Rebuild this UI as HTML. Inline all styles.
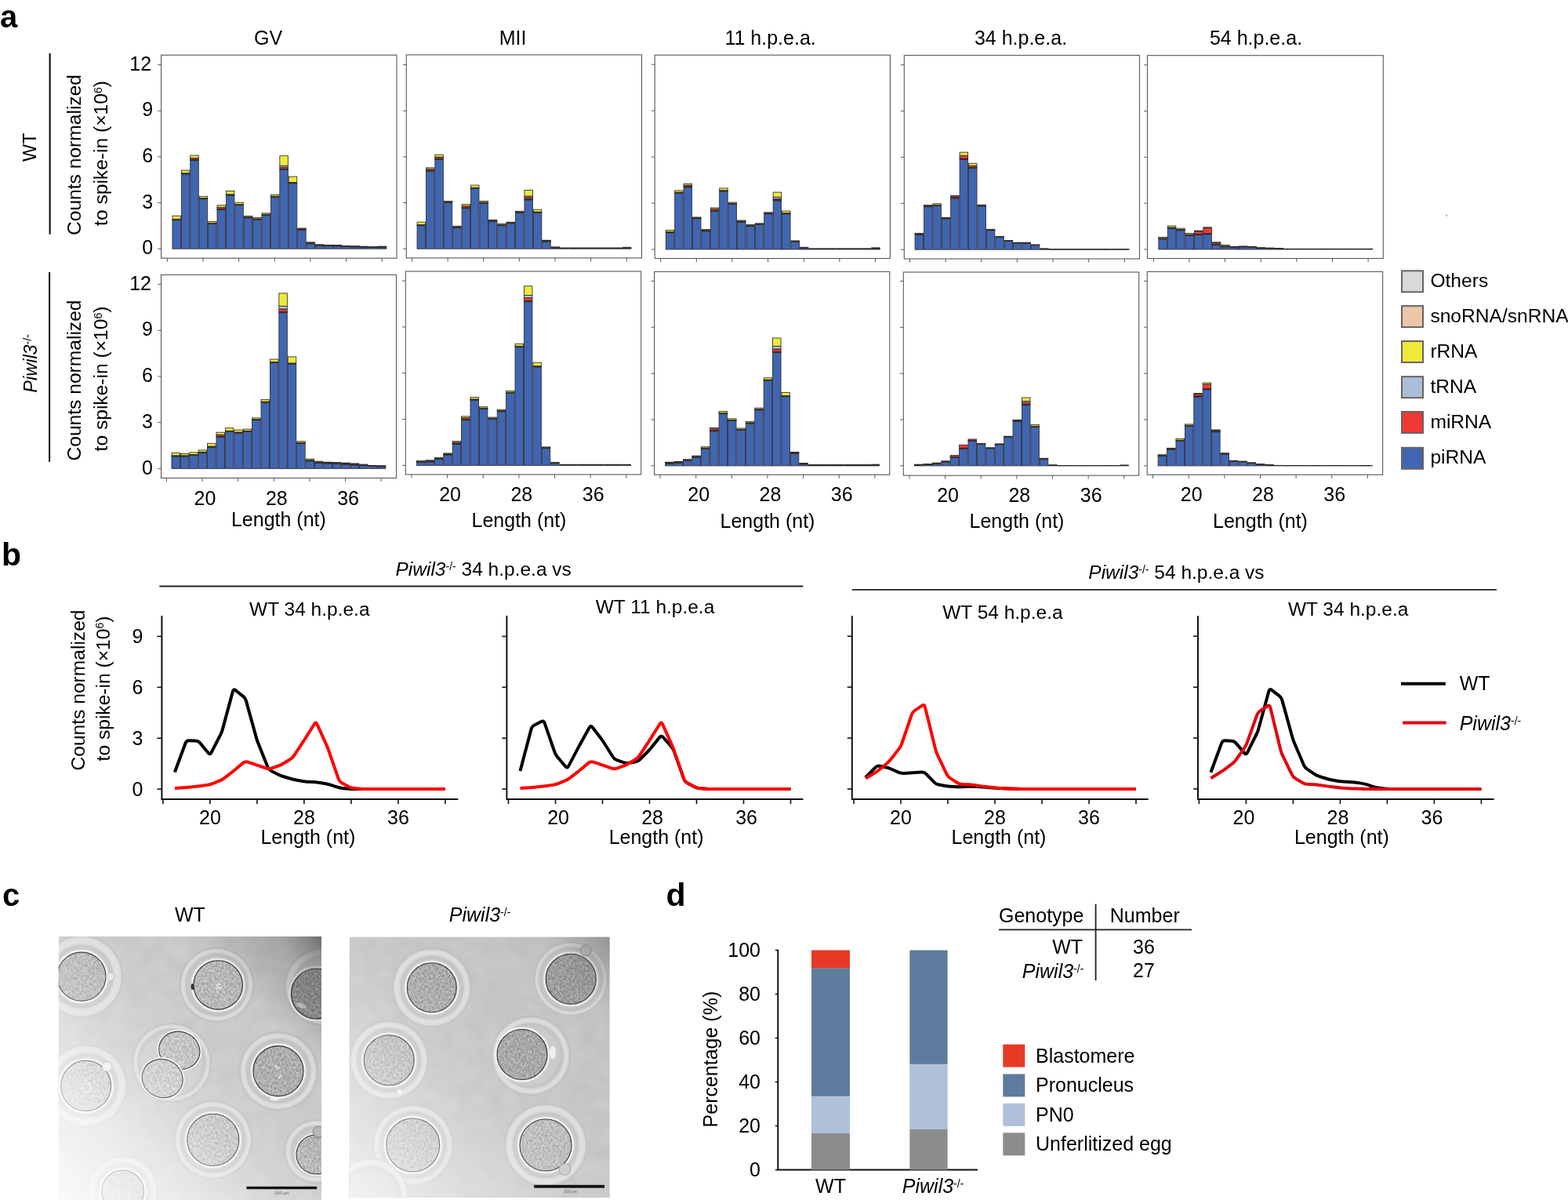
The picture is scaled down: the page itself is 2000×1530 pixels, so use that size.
<!DOCTYPE html>
<html><head><meta charset="utf-8"><title>Figure</title>
<style>html,body{margin:0;padding:0;background:#fff;} svg{display:block;}</style>
</head><body>
<svg width="2000" height="1530" viewBox="0 0 2000 1530" font-family="'Liberation Sans', Arial, Helvetica, sans-serif" fill="#000">

<text x="0" y="34.5" font-size="40" font-weight="bold">a</text>
<text x="2" y="720.5" font-size="41" font-weight="bold">b</text>
<text x="3" y="1155" font-size="40" font-weight="bold">c</text>
<text x="849.5" y="1155" font-size="41" font-weight="bold">d</text>
<text x="342" y="57" text-anchor="middle" font-size="25">GV</text>
<text x="654" y="57" text-anchor="middle" font-size="25">MII</text>
<text x="982.6" y="57" text-anchor="middle" font-size="25">11 h.p.e.a.</text>
<text x="1302" y="57" text-anchor="middle" font-size="25">34 h.p.e.a.</text>
<text x="1602" y="57" text-anchor="middle" font-size="25">54 h.p.e.a.</text>
<rect x="205.6" y="70.2" width="300.4" height="259" fill="#fff" stroke="#5e5654" stroke-width="1.1"/>
<line x1="201.3" y1="317.2" x2="205.6" y2="317.2" stroke="#5e5654" stroke-width="1"/>
<text x="195.1" y="324.4" text-anchor="end" font-size="25">0</text>
<line x1="201.3" y1="258.55" x2="205.6" y2="258.55" stroke="#5e5654" stroke-width="1"/>
<text x="195.1" y="265.75" text-anchor="end" font-size="25">3</text>
<line x1="201.3" y1="199.9" x2="205.6" y2="199.9" stroke="#5e5654" stroke-width="1"/>
<text x="195.1" y="207.1" text-anchor="end" font-size="25">6</text>
<line x1="201.3" y1="141.25" x2="205.6" y2="141.25" stroke="#5e5654" stroke-width="1"/>
<text x="195.1" y="148.45" text-anchor="end" font-size="25">9</text>
<line x1="201.3" y1="82.6" x2="205.6" y2="82.6" stroke="#5e5654" stroke-width="1"/>
<text x="193.1" y="89.8" text-anchor="end" font-size="25">12</text>
<line x1="213.4" y1="329.2" x2="213.4" y2="333.8" stroke="#5e5654" stroke-width="1"/>
<line x1="259.03" y1="329.2" x2="259.03" y2="333.8" stroke="#5e5654" stroke-width="1"/>
<line x1="304.66" y1="329.2" x2="304.66" y2="333.8" stroke="#5e5654" stroke-width="1"/>
<line x1="350.29" y1="329.2" x2="350.29" y2="333.8" stroke="#5e5654" stroke-width="1"/>
<line x1="395.92" y1="329.2" x2="395.92" y2="333.8" stroke="#5e5654" stroke-width="1"/>
<line x1="441.55" y1="329.2" x2="441.55" y2="333.8" stroke="#5e5654" stroke-width="1"/>
<line x1="487.18" y1="329.2" x2="487.18" y2="333.8" stroke="#5e5654" stroke-width="1"/>
<rect x="219.96" y="280.45" width="10.5" height="36.75" fill="#4066b1" stroke="#2e2a2c" stroke-width="0.85"/>
<rect x="219.96" y="279.27" width="10.5" height="1.17" fill="#3b2a26" stroke="#2e2a2c" stroke-width="0.85"/>
<rect x="219.96" y="275.17" width="10.5" height="4.11" fill="#efe93a" stroke="#2e2a2c" stroke-width="0.85"/>
<rect x="231.37" y="221.99" width="10.5" height="95.21" fill="#4066b1" stroke="#2e2a2c" stroke-width="0.85"/>
<rect x="231.37" y="220.82" width="10.5" height="1.17" fill="#3b2a26" stroke="#2e2a2c" stroke-width="0.85"/>
<rect x="231.37" y="217.1" width="10.5" height="3.71" fill="#efe93a" stroke="#2e2a2c" stroke-width="0.85"/>
<rect x="242.77" y="204.4" width="10.5" height="112.8" fill="#4066b1" stroke="#2e2a2c" stroke-width="0.85"/>
<rect x="242.77" y="203.22" width="10.5" height="1.17" fill="#3b2a26" stroke="#2e2a2c" stroke-width="0.85"/>
<rect x="242.77" y="201.66" width="10.5" height="1.56" fill="#ee3a33" stroke="#2e2a2c" stroke-width="0.85"/>
<rect x="242.77" y="198.14" width="10.5" height="3.52" fill="#efe93a" stroke="#2e2a2c" stroke-width="0.85"/>
<rect x="254.18" y="253.66" width="10.5" height="63.54" fill="#4066b1" stroke="#2e2a2c" stroke-width="0.85"/>
<rect x="254.18" y="252.49" width="10.5" height="1.17" fill="#3b2a26" stroke="#2e2a2c" stroke-width="0.85"/>
<rect x="254.18" y="250.34" width="10.5" height="2.15" fill="#efe93a" stroke="#2e2a2c" stroke-width="0.85"/>
<rect x="265.59" y="285.53" width="10.5" height="31.67" fill="#4066b1" stroke="#2e2a2c" stroke-width="0.85"/>
<rect x="265.59" y="284.36" width="10.5" height="1.17" fill="#3b2a26" stroke="#2e2a2c" stroke-width="0.85"/>
<rect x="265.59" y="282.4" width="10.5" height="1.95" fill="#efe93a" stroke="#2e2a2c" stroke-width="0.85"/>
<rect x="277" y="267.35" width="10.5" height="49.85" fill="#4066b1" stroke="#2e2a2c" stroke-width="0.85"/>
<rect x="277" y="266.17" width="10.5" height="1.17" fill="#3b2a26" stroke="#2e2a2c" stroke-width="0.85"/>
<rect x="277" y="264.22" width="10.5" height="1.96" fill="#ee3a33" stroke="#2e2a2c" stroke-width="0.85"/>
<rect x="277" y="261.68" width="10.5" height="2.54" fill="#efe93a" stroke="#2e2a2c" stroke-width="0.85"/>
<rect x="288.4" y="248.97" width="10.5" height="68.23" fill="#4066b1" stroke="#2e2a2c" stroke-width="0.85"/>
<rect x="288.4" y="247.8" width="10.5" height="1.17" fill="#3b2a26" stroke="#2e2a2c" stroke-width="0.85"/>
<rect x="288.4" y="243.5" width="10.5" height="4.3" fill="#efe93a" stroke="#2e2a2c" stroke-width="0.85"/>
<rect x="299.81" y="261.68" width="10.5" height="55.52" fill="#4066b1" stroke="#2e2a2c" stroke-width="0.85"/>
<rect x="299.81" y="260.5" width="10.5" height="1.17" fill="#3b2a26" stroke="#2e2a2c" stroke-width="0.85"/>
<rect x="299.81" y="258.16" width="10.5" height="2.35" fill="#efe93a" stroke="#2e2a2c" stroke-width="0.85"/>
<rect x="311.22" y="277.9" width="10.5" height="39.3" fill="#4066b1" stroke="#2e2a2c" stroke-width="0.85"/>
<rect x="311.22" y="276.73" width="10.5" height="1.17" fill="#3b2a26" stroke="#2e2a2c" stroke-width="0.85"/>
<rect x="311.22" y="275.36" width="10.5" height="1.37" fill="#efe93a" stroke="#2e2a2c" stroke-width="0.85"/>
<rect x="322.62" y="280.06" width="10.5" height="37.15" fill="#4066b1" stroke="#2e2a2c" stroke-width="0.85"/>
<rect x="322.62" y="278.88" width="10.5" height="1.17" fill="#3b2a26" stroke="#2e2a2c" stroke-width="0.85"/>
<rect x="322.62" y="277.32" width="10.5" height="1.56" fill="#efe93a" stroke="#2e2a2c" stroke-width="0.85"/>
<rect x="334.03" y="274.39" width="10.5" height="42.81" fill="#4066b1" stroke="#2e2a2c" stroke-width="0.85"/>
<rect x="334.03" y="273.21" width="10.5" height="1.17" fill="#3b2a26" stroke="#2e2a2c" stroke-width="0.85"/>
<rect x="334.03" y="271.84" width="10.5" height="1.37" fill="#efe93a" stroke="#2e2a2c" stroke-width="0.85"/>
<rect x="345.44" y="251.32" width="10.5" height="65.88" fill="#4066b1" stroke="#2e2a2c" stroke-width="0.85"/>
<rect x="345.44" y="250.14" width="10.5" height="1.17" fill="#3b2a26" stroke="#2e2a2c" stroke-width="0.85"/>
<rect x="345.44" y="248.19" width="10.5" height="1.95" fill="#efe93a" stroke="#2e2a2c" stroke-width="0.85"/>
<rect x="356.85" y="216.32" width="10.5" height="100.88" fill="#4066b1" stroke="#2e2a2c" stroke-width="0.85"/>
<rect x="356.85" y="215.15" width="10.5" height="1.17" fill="#3b2a26" stroke="#2e2a2c" stroke-width="0.85"/>
<rect x="356.85" y="213.19" width="10.5" height="1.96" fill="#ee3a33" stroke="#2e2a2c" stroke-width="0.85"/>
<rect x="356.85" y="211.24" width="10.5" height="1.96" fill="#b2c6e0" stroke="#2e2a2c" stroke-width="0.85"/>
<rect x="356.85" y="198.73" width="10.5" height="12.51" fill="#efe93a" stroke="#2e2a2c" stroke-width="0.85"/>
<rect x="368.25" y="233.72" width="10.5" height="83.48" fill="#4066b1" stroke="#2e2a2c" stroke-width="0.85"/>
<rect x="368.25" y="232.55" width="10.5" height="1.17" fill="#3b2a26" stroke="#2e2a2c" stroke-width="0.85"/>
<rect x="368.25" y="225.12" width="10.5" height="7.43" fill="#efe93a" stroke="#2e2a2c" stroke-width="0.85"/>
<rect x="379.66" y="293.15" width="10.5" height="24.05" fill="#4066b1" stroke="#2e2a2c" stroke-width="0.85"/>
<rect x="379.66" y="291.98" width="10.5" height="1.17" fill="#3b2a26" stroke="#2e2a2c" stroke-width="0.85"/>
<rect x="379.66" y="291" width="10.5" height="0.98" fill="#efe93a" stroke="#2e2a2c" stroke-width="0.85"/>
<rect x="391.07" y="310.75" width="10.5" height="6.45" fill="#4066b1" stroke="#2e2a2c" stroke-width="0.85"/>
<rect x="391.07" y="309.58" width="10.5" height="1.17" fill="#3b2a26" stroke="#2e2a2c" stroke-width="0.85"/>
<rect x="391.07" y="308.79" width="10.5" height="0.78" fill="#efe93a" stroke="#2e2a2c" stroke-width="0.85"/>
<rect x="402.48" y="313.29" width="10.5" height="3.91" fill="#4066b1" stroke="#2e2a2c" stroke-width="0.85"/>
<rect x="402.48" y="312.12" width="10.5" height="1.17" fill="#3b2a26" stroke="#2e2a2c" stroke-width="0.85"/>
<rect x="402.48" y="311.73" width="10.5" height="0.39" fill="#efe93a" stroke="#2e2a2c" stroke-width="0.85"/>
<rect x="413.88" y="313.68" width="10.5" height="3.52" fill="#4066b1" stroke="#2e2a2c" stroke-width="0.85"/>
<rect x="413.88" y="312.51" width="10.5" height="1.17" fill="#3b2a26" stroke="#2e2a2c" stroke-width="0.85"/>
<rect x="413.88" y="312.31" width="10.5" height="0.2" fill="#efe93a" stroke="#2e2a2c" stroke-width="0.85"/>
<rect x="425.29" y="313.88" width="10.5" height="3.32" fill="#4066b1" stroke="#2e2a2c" stroke-width="0.85"/>
<rect x="425.29" y="312.7" width="10.5" height="1.17" fill="#3b2a26" stroke="#2e2a2c" stroke-width="0.85"/>
<rect x="425.29" y="312.51" width="10.5" height="0.2" fill="#efe93a" stroke="#2e2a2c" stroke-width="0.85"/>
<rect x="436.7" y="314.46" width="10.5" height="2.74" fill="#4066b1" stroke="#2e2a2c" stroke-width="0.85"/>
<rect x="436.7" y="313.29" width="10.5" height="1.17" fill="#3b2a26" stroke="#2e2a2c" stroke-width="0.85"/>
<rect x="448.11" y="314.85" width="10.5" height="2.35" fill="#4066b1" stroke="#2e2a2c" stroke-width="0.85"/>
<rect x="448.11" y="313.68" width="10.5" height="1.17" fill="#3b2a26" stroke="#2e2a2c" stroke-width="0.85"/>
<rect x="459.51" y="315.25" width="10.5" height="1.96" fill="#4066b1" stroke="#2e2a2c" stroke-width="0.85"/>
<rect x="459.51" y="314.07" width="10.5" height="1.17" fill="#3b2a26" stroke="#2e2a2c" stroke-width="0.85"/>
<rect x="470.92" y="315.44" width="10.5" height="1.76" fill="#4066b1" stroke="#2e2a2c" stroke-width="0.85"/>
<rect x="470.92" y="314.46" width="10.5" height="0.98" fill="#3b2a26" stroke="#2e2a2c" stroke-width="0.85"/>
<rect x="482.33" y="315.25" width="10.5" height="1.96" fill="#4066b1" stroke="#2e2a2c" stroke-width="0.85"/>
<rect x="482.33" y="314.07" width="10.5" height="1.17" fill="#3b2a26" stroke="#2e2a2c" stroke-width="0.85"/>
<rect x="205.5" y="350.4" width="300" height="259.1" fill="#fff" stroke="#5e5654" stroke-width="1.1"/>
<line x1="201.2" y1="597.4" x2="205.5" y2="597.4" stroke="#5e5654" stroke-width="1"/>
<text x="195" y="604.6" text-anchor="end" font-size="25">0</text>
<line x1="201.2" y1="538.69" x2="205.5" y2="538.69" stroke="#5e5654" stroke-width="1"/>
<text x="195" y="545.89" text-anchor="end" font-size="25">3</text>
<line x1="201.2" y1="479.98" x2="205.5" y2="479.98" stroke="#5e5654" stroke-width="1"/>
<text x="195" y="487.18" text-anchor="end" font-size="25">6</text>
<line x1="201.2" y1="421.27" x2="205.5" y2="421.27" stroke="#5e5654" stroke-width="1"/>
<text x="195" y="428.47" text-anchor="end" font-size="25">9</text>
<line x1="201.2" y1="362.56" x2="205.5" y2="362.56" stroke="#5e5654" stroke-width="1"/>
<text x="193" y="369.76" text-anchor="end" font-size="25">12</text>
<line x1="212.4" y1="609.5" x2="212.4" y2="614.1" stroke="#5e5654" stroke-width="1"/>
<line x1="258.03" y1="609.5" x2="258.03" y2="614.1" stroke="#5e5654" stroke-width="1"/>
<line x1="303.66" y1="609.5" x2="303.66" y2="614.1" stroke="#5e5654" stroke-width="1"/>
<line x1="349.29" y1="609.5" x2="349.29" y2="614.1" stroke="#5e5654" stroke-width="1"/>
<line x1="394.92" y1="609.5" x2="394.92" y2="614.1" stroke="#5e5654" stroke-width="1"/>
<line x1="440.55" y1="609.5" x2="440.55" y2="614.1" stroke="#5e5654" stroke-width="1"/>
<line x1="486.18" y1="609.5" x2="486.18" y2="614.1" stroke="#5e5654" stroke-width="1"/>
<text x="261.53" y="643.5" text-anchor="middle" font-size="25">20</text>
<text x="352.79" y="643.5" text-anchor="middle" font-size="25">28</text>
<text x="444.05" y="643.5" text-anchor="middle" font-size="25">36</text>
<rect x="218.96" y="581.94" width="10.5" height="15.46" fill="#4066b1" stroke="#2e2a2c" stroke-width="0.85"/>
<rect x="218.96" y="580.77" width="10.5" height="1.17" fill="#3b2a26" stroke="#2e2a2c" stroke-width="0.85"/>
<rect x="218.96" y="577.44" width="10.5" height="3.33" fill="#efe93a" stroke="#2e2a2c" stroke-width="0.85"/>
<rect x="230.37" y="581.94" width="10.5" height="15.46" fill="#4066b1" stroke="#2e2a2c" stroke-width="0.85"/>
<rect x="230.37" y="580.77" width="10.5" height="1.17" fill="#3b2a26" stroke="#2e2a2c" stroke-width="0.85"/>
<rect x="230.37" y="578.42" width="10.5" height="2.35" fill="#efe93a" stroke="#2e2a2c" stroke-width="0.85"/>
<rect x="241.77" y="580.57" width="10.5" height="16.83" fill="#4066b1" stroke="#2e2a2c" stroke-width="0.85"/>
<rect x="241.77" y="579.4" width="10.5" height="1.17" fill="#3b2a26" stroke="#2e2a2c" stroke-width="0.85"/>
<rect x="241.77" y="576.85" width="10.5" height="2.54" fill="#efe93a" stroke="#2e2a2c" stroke-width="0.85"/>
<rect x="253.18" y="577.44" width="10.5" height="19.96" fill="#4066b1" stroke="#2e2a2c" stroke-width="0.85"/>
<rect x="253.18" y="576.26" width="10.5" height="1.17" fill="#3b2a26" stroke="#2e2a2c" stroke-width="0.85"/>
<rect x="253.18" y="573.92" width="10.5" height="2.35" fill="#efe93a" stroke="#2e2a2c" stroke-width="0.85"/>
<rect x="264.59" y="570.2" width="10.5" height="27.2" fill="#4066b1" stroke="#2e2a2c" stroke-width="0.85"/>
<rect x="264.59" y="569.02" width="10.5" height="1.17" fill="#3b2a26" stroke="#2e2a2c" stroke-width="0.85"/>
<rect x="264.59" y="565.31" width="10.5" height="3.72" fill="#efe93a" stroke="#2e2a2c" stroke-width="0.85"/>
<rect x="276" y="557.28" width="10.5" height="40.12" fill="#4066b1" stroke="#2e2a2c" stroke-width="0.85"/>
<rect x="276" y="556.11" width="10.5" height="1.17" fill="#3b2a26" stroke="#2e2a2c" stroke-width="0.85"/>
<rect x="276" y="554.15" width="10.5" height="1.96" fill="#ee3a33" stroke="#2e2a2c" stroke-width="0.85"/>
<rect x="276" y="551.21" width="10.5" height="2.94" fill="#efe93a" stroke="#2e2a2c" stroke-width="0.85"/>
<rect x="287.4" y="550.43" width="10.5" height="46.97" fill="#4066b1" stroke="#2e2a2c" stroke-width="0.85"/>
<rect x="287.4" y="549.26" width="10.5" height="1.17" fill="#3b2a26" stroke="#2e2a2c" stroke-width="0.85"/>
<rect x="287.4" y="545.74" width="10.5" height="3.52" fill="#efe93a" stroke="#2e2a2c" stroke-width="0.85"/>
<rect x="298.81" y="552.19" width="10.5" height="45.21" fill="#4066b1" stroke="#2e2a2c" stroke-width="0.85"/>
<rect x="298.81" y="551.02" width="10.5" height="1.17" fill="#3b2a26" stroke="#2e2a2c" stroke-width="0.85"/>
<rect x="298.81" y="548.08" width="10.5" height="2.94" fill="#efe93a" stroke="#2e2a2c" stroke-width="0.85"/>
<rect x="310.22" y="550.43" width="10.5" height="46.97" fill="#4066b1" stroke="#2e2a2c" stroke-width="0.85"/>
<rect x="310.22" y="549.26" width="10.5" height="1.17" fill="#3b2a26" stroke="#2e2a2c" stroke-width="0.85"/>
<rect x="310.22" y="547.11" width="10.5" height="2.15" fill="#efe93a" stroke="#2e2a2c" stroke-width="0.85"/>
<rect x="321.62" y="535.75" width="10.5" height="61.65" fill="#4066b1" stroke="#2e2a2c" stroke-width="0.85"/>
<rect x="321.62" y="534.58" width="10.5" height="1.17" fill="#3b2a26" stroke="#2e2a2c" stroke-width="0.85"/>
<rect x="321.62" y="532.82" width="10.5" height="1.76" fill="#efe93a" stroke="#2e2a2c" stroke-width="0.85"/>
<rect x="333.03" y="513.25" width="10.5" height="84.15" fill="#4066b1" stroke="#2e2a2c" stroke-width="0.85"/>
<rect x="333.03" y="512.07" width="10.5" height="1.17" fill="#3b2a26" stroke="#2e2a2c" stroke-width="0.85"/>
<rect x="333.03" y="509.33" width="10.5" height="2.74" fill="#efe93a" stroke="#2e2a2c" stroke-width="0.85"/>
<rect x="344.44" y="462.56" width="10.5" height="134.84" fill="#4066b1" stroke="#2e2a2c" stroke-width="0.85"/>
<rect x="344.44" y="461.39" width="10.5" height="1.17" fill="#3b2a26" stroke="#2e2a2c" stroke-width="0.85"/>
<rect x="344.44" y="458.06" width="10.5" height="3.33" fill="#efe93a" stroke="#2e2a2c" stroke-width="0.85"/>
<rect x="355.85" y="398.57" width="10.5" height="198.83" fill="#4066b1" stroke="#2e2a2c" stroke-width="0.85"/>
<rect x="355.85" y="397.39" width="10.5" height="1.17" fill="#3b2a26" stroke="#2e2a2c" stroke-width="0.85"/>
<rect x="355.85" y="393.87" width="10.5" height="3.52" fill="#ee3a33" stroke="#2e2a2c" stroke-width="0.85"/>
<rect x="355.85" y="390.35" width="10.5" height="3.52" fill="#b2c6e0" stroke="#2e2a2c" stroke-width="0.85"/>
<rect x="355.85" y="373.91" width="10.5" height="16.44" fill="#efe93a" stroke="#2e2a2c" stroke-width="0.85"/>
<rect x="367.25" y="464.13" width="10.5" height="133.27" fill="#4066b1" stroke="#2e2a2c" stroke-width="0.85"/>
<rect x="367.25" y="462.95" width="10.5" height="1.17" fill="#3b2a26" stroke="#2e2a2c" stroke-width="0.85"/>
<rect x="367.25" y="454.93" width="10.5" height="8.02" fill="#efe93a" stroke="#2e2a2c" stroke-width="0.85"/>
<rect x="378.66" y="565.5" width="10.5" height="31.9" fill="#4066b1" stroke="#2e2a2c" stroke-width="0.85"/>
<rect x="378.66" y="564.33" width="10.5" height="1.17" fill="#3b2a26" stroke="#2e2a2c" stroke-width="0.85"/>
<rect x="378.66" y="562.76" width="10.5" height="1.57" fill="#efe93a" stroke="#2e2a2c" stroke-width="0.85"/>
<rect x="390.07" y="587.81" width="10.5" height="9.59" fill="#4066b1" stroke="#2e2a2c" stroke-width="0.85"/>
<rect x="390.07" y="586.64" width="10.5" height="1.17" fill="#3b2a26" stroke="#2e2a2c" stroke-width="0.85"/>
<rect x="390.07" y="585.07" width="10.5" height="1.57" fill="#efe93a" stroke="#2e2a2c" stroke-width="0.85"/>
<rect x="401.48" y="590.35" width="10.5" height="7.05" fill="#4066b1" stroke="#2e2a2c" stroke-width="0.85"/>
<rect x="401.48" y="589.18" width="10.5" height="1.17" fill="#3b2a26" stroke="#2e2a2c" stroke-width="0.85"/>
<rect x="401.48" y="588.2" width="10.5" height="0.98" fill="#efe93a" stroke="#2e2a2c" stroke-width="0.85"/>
<rect x="412.88" y="590.94" width="10.5" height="6.46" fill="#4066b1" stroke="#2e2a2c" stroke-width="0.85"/>
<rect x="412.88" y="589.77" width="10.5" height="1.17" fill="#3b2a26" stroke="#2e2a2c" stroke-width="0.85"/>
<rect x="412.88" y="589.18" width="10.5" height="0.59" fill="#efe93a" stroke="#2e2a2c" stroke-width="0.85"/>
<rect x="424.29" y="591.53" width="10.5" height="5.87" fill="#4066b1" stroke="#2e2a2c" stroke-width="0.85"/>
<rect x="424.29" y="590.35" width="10.5" height="1.17" fill="#3b2a26" stroke="#2e2a2c" stroke-width="0.85"/>
<rect x="424.29" y="589.57" width="10.5" height="0.78" fill="#efe93a" stroke="#2e2a2c" stroke-width="0.85"/>
<rect x="435.7" y="592.12" width="10.5" height="5.28" fill="#4066b1" stroke="#2e2a2c" stroke-width="0.85"/>
<rect x="435.7" y="590.94" width="10.5" height="1.17" fill="#3b2a26" stroke="#2e2a2c" stroke-width="0.85"/>
<rect x="435.7" y="590.16" width="10.5" height="0.78" fill="#efe93a" stroke="#2e2a2c" stroke-width="0.85"/>
<rect x="447.11" y="592.9" width="10.5" height="4.5" fill="#4066b1" stroke="#2e2a2c" stroke-width="0.85"/>
<rect x="447.11" y="591.72" width="10.5" height="1.17" fill="#3b2a26" stroke="#2e2a2c" stroke-width="0.85"/>
<rect x="447.11" y="590.94" width="10.5" height="0.78" fill="#efe93a" stroke="#2e2a2c" stroke-width="0.85"/>
<rect x="458.51" y="593.49" width="10.5" height="3.91" fill="#4066b1" stroke="#2e2a2c" stroke-width="0.85"/>
<rect x="458.51" y="592.31" width="10.5" height="1.17" fill="#3b2a26" stroke="#2e2a2c" stroke-width="0.85"/>
<rect x="458.51" y="592.12" width="10.5" height="0.2" fill="#efe93a" stroke="#2e2a2c" stroke-width="0.85"/>
<rect x="469.92" y="594.27" width="10.5" height="3.13" fill="#4066b1" stroke="#2e2a2c" stroke-width="0.85"/>
<rect x="469.92" y="593.49" width="10.5" height="0.78" fill="#3b2a26" stroke="#2e2a2c" stroke-width="0.85"/>
<rect x="481.33" y="594.86" width="10.5" height="2.54" fill="#4066b1" stroke="#2e2a2c" stroke-width="0.85"/>
<rect x="481.33" y="593.68" width="10.5" height="1.17" fill="#3b2a26" stroke="#2e2a2c" stroke-width="0.85"/>
<rect x="518.3" y="69.9" width="300.2" height="259" fill="#fff" stroke="#5e5654" stroke-width="1.1"/>
<line x1="514" y1="317.2" x2="518.3" y2="317.2" stroke="#5e5654" stroke-width="1"/>
<line x1="514" y1="258.55" x2="518.3" y2="258.55" stroke="#5e5654" stroke-width="1"/>
<line x1="514" y1="199.9" x2="518.3" y2="199.9" stroke="#5e5654" stroke-width="1"/>
<line x1="514" y1="141.25" x2="518.3" y2="141.25" stroke="#5e5654" stroke-width="1"/>
<line x1="514" y1="82.6" x2="518.3" y2="82.6" stroke="#5e5654" stroke-width="1"/>
<line x1="525.5" y1="328.9" x2="525.5" y2="333.5" stroke="#5e5654" stroke-width="1"/>
<line x1="571.13" y1="328.9" x2="571.13" y2="333.5" stroke="#5e5654" stroke-width="1"/>
<line x1="616.76" y1="328.9" x2="616.76" y2="333.5" stroke="#5e5654" stroke-width="1"/>
<line x1="662.39" y1="328.9" x2="662.39" y2="333.5" stroke="#5e5654" stroke-width="1"/>
<line x1="708.02" y1="328.9" x2="708.02" y2="333.5" stroke="#5e5654" stroke-width="1"/>
<line x1="753.65" y1="328.9" x2="753.65" y2="333.5" stroke="#5e5654" stroke-width="1"/>
<line x1="799.28" y1="328.9" x2="799.28" y2="333.5" stroke="#5e5654" stroke-width="1"/>
<rect x="532.06" y="287.68" width="10.5" height="29.52" fill="#4066b1" stroke="#2e2a2c" stroke-width="0.85"/>
<rect x="532.06" y="286.51" width="10.5" height="1.17" fill="#3b2a26" stroke="#2e2a2c" stroke-width="0.85"/>
<rect x="532.06" y="283.18" width="10.5" height="3.32" fill="#efe93a" stroke="#2e2a2c" stroke-width="0.85"/>
<rect x="543.47" y="218.28" width="10.5" height="98.92" fill="#4066b1" stroke="#2e2a2c" stroke-width="0.85"/>
<rect x="543.47" y="217.1" width="10.5" height="1.17" fill="#3b2a26" stroke="#2e2a2c" stroke-width="0.85"/>
<rect x="543.47" y="215.54" width="10.5" height="1.56" fill="#ee3a33" stroke="#2e2a2c" stroke-width="0.85"/>
<rect x="543.47" y="213.78" width="10.5" height="1.76" fill="#efe93a" stroke="#2e2a2c" stroke-width="0.85"/>
<rect x="554.87" y="203.22" width="10.5" height="113.98" fill="#4066b1" stroke="#2e2a2c" stroke-width="0.85"/>
<rect x="554.87" y="202.05" width="10.5" height="1.17" fill="#3b2a26" stroke="#2e2a2c" stroke-width="0.85"/>
<rect x="554.87" y="200.1" width="10.5" height="1.96" fill="#ee3a33" stroke="#2e2a2c" stroke-width="0.85"/>
<rect x="554.87" y="197.16" width="10.5" height="2.93" fill="#efe93a" stroke="#2e2a2c" stroke-width="0.85"/>
<rect x="566.28" y="258.55" width="10.5" height="58.65" fill="#4066b1" stroke="#2e2a2c" stroke-width="0.85"/>
<rect x="566.28" y="257.38" width="10.5" height="1.17" fill="#3b2a26" stroke="#2e2a2c" stroke-width="0.85"/>
<rect x="566.28" y="256.4" width="10.5" height="0.98" fill="#efe93a" stroke="#2e2a2c" stroke-width="0.85"/>
<rect x="577.69" y="290.42" width="10.5" height="26.78" fill="#4066b1" stroke="#2e2a2c" stroke-width="0.85"/>
<rect x="577.69" y="289.24" width="10.5" height="1.17" fill="#3b2a26" stroke="#2e2a2c" stroke-width="0.85"/>
<rect x="577.69" y="288.27" width="10.5" height="0.98" fill="#efe93a" stroke="#2e2a2c" stroke-width="0.85"/>
<rect x="589.1" y="265.59" width="10.5" height="51.61" fill="#4066b1" stroke="#2e2a2c" stroke-width="0.85"/>
<rect x="589.1" y="264.41" width="10.5" height="1.17" fill="#3b2a26" stroke="#2e2a2c" stroke-width="0.85"/>
<rect x="589.1" y="262.46" width="10.5" height="1.96" fill="#ee3a33" stroke="#2e2a2c" stroke-width="0.85"/>
<rect x="589.1" y="260.5" width="10.5" height="1.95" fill="#efe93a" stroke="#2e2a2c" stroke-width="0.85"/>
<rect x="600.5" y="240.37" width="10.5" height="76.83" fill="#4066b1" stroke="#2e2a2c" stroke-width="0.85"/>
<rect x="600.5" y="239.2" width="10.5" height="1.17" fill="#3b2a26" stroke="#2e2a2c" stroke-width="0.85"/>
<rect x="600.5" y="236.07" width="10.5" height="3.13" fill="#efe93a" stroke="#2e2a2c" stroke-width="0.85"/>
<rect x="611.91" y="259.14" width="10.5" height="58.06" fill="#4066b1" stroke="#2e2a2c" stroke-width="0.85"/>
<rect x="611.91" y="257.96" width="10.5" height="1.17" fill="#3b2a26" stroke="#2e2a2c" stroke-width="0.85"/>
<rect x="611.91" y="256.4" width="10.5" height="1.56" fill="#efe93a" stroke="#2e2a2c" stroke-width="0.85"/>
<rect x="623.32" y="282.4" width="10.5" height="34.8" fill="#4066b1" stroke="#2e2a2c" stroke-width="0.85"/>
<rect x="623.32" y="281.23" width="10.5" height="1.17" fill="#3b2a26" stroke="#2e2a2c" stroke-width="0.85"/>
<rect x="623.32" y="280.45" width="10.5" height="0.78" fill="#efe93a" stroke="#2e2a2c" stroke-width="0.85"/>
<rect x="634.73" y="287.68" width="10.5" height="29.52" fill="#4066b1" stroke="#2e2a2c" stroke-width="0.85"/>
<rect x="634.73" y="286.51" width="10.5" height="1.17" fill="#3b2a26" stroke="#2e2a2c" stroke-width="0.85"/>
<rect x="634.73" y="285.14" width="10.5" height="1.37" fill="#efe93a" stroke="#2e2a2c" stroke-width="0.85"/>
<rect x="646.13" y="284.75" width="10.5" height="32.45" fill="#4066b1" stroke="#2e2a2c" stroke-width="0.85"/>
<rect x="646.13" y="283.57" width="10.5" height="1.17" fill="#3b2a26" stroke="#2e2a2c" stroke-width="0.85"/>
<rect x="646.13" y="283.18" width="10.5" height="0.39" fill="#efe93a" stroke="#2e2a2c" stroke-width="0.85"/>
<rect x="657.54" y="271.45" width="10.5" height="45.75" fill="#4066b1" stroke="#2e2a2c" stroke-width="0.85"/>
<rect x="657.54" y="270.28" width="10.5" height="1.17" fill="#3b2a26" stroke="#2e2a2c" stroke-width="0.85"/>
<rect x="657.54" y="269.3" width="10.5" height="0.98" fill="#efe93a" stroke="#2e2a2c" stroke-width="0.85"/>
<rect x="668.95" y="254.84" width="10.5" height="62.36" fill="#4066b1" stroke="#2e2a2c" stroke-width="0.85"/>
<rect x="668.95" y="253.66" width="10.5" height="1.17" fill="#3b2a26" stroke="#2e2a2c" stroke-width="0.85"/>
<rect x="668.95" y="251.71" width="10.5" height="1.96" fill="#ee3a33" stroke="#2e2a2c" stroke-width="0.85"/>
<rect x="668.95" y="249.95" width="10.5" height="1.76" fill="#b2c6e0" stroke="#2e2a2c" stroke-width="0.85"/>
<rect x="668.95" y="242.52" width="10.5" height="7.43" fill="#efe93a" stroke="#2e2a2c" stroke-width="0.85"/>
<rect x="680.36" y="271.26" width="10.5" height="45.94" fill="#4066b1" stroke="#2e2a2c" stroke-width="0.85"/>
<rect x="680.36" y="270.08" width="10.5" height="1.17" fill="#3b2a26" stroke="#2e2a2c" stroke-width="0.85"/>
<rect x="680.36" y="267.15" width="10.5" height="2.93" fill="#efe93a" stroke="#2e2a2c" stroke-width="0.85"/>
<rect x="691.76" y="308.01" width="10.5" height="9.19" fill="#4066b1" stroke="#2e2a2c" stroke-width="0.85"/>
<rect x="691.76" y="306.84" width="10.5" height="1.17" fill="#3b2a26" stroke="#2e2a2c" stroke-width="0.85"/>
<rect x="691.76" y="306.25" width="10.5" height="0.59" fill="#efe93a" stroke="#2e2a2c" stroke-width="0.85"/>
<rect x="703.17" y="315.83" width="10.5" height="1.37" fill="#4066b1" stroke="#2e2a2c" stroke-width="0.85"/>
<rect x="703.17" y="314.85" width="10.5" height="0.98" fill="#3b2a26" stroke="#2e2a2c" stroke-width="0.85"/>
<rect x="714.58" y="316.61" width="10.5" height="0.59" fill="#4066b1" stroke="#2e2a2c" stroke-width="0.85"/>
<rect x="714.58" y="315.93" width="10.5" height="0.68" fill="#3b2a26" stroke="#2e2a2c" stroke-width="0.85"/>
<rect x="725.99" y="316.61" width="10.5" height="0.59" fill="#4066b1" stroke="#2e2a2c" stroke-width="0.85"/>
<rect x="725.99" y="315.93" width="10.5" height="0.68" fill="#3b2a26" stroke="#2e2a2c" stroke-width="0.85"/>
<rect x="737.39" y="316.61" width="10.5" height="0.59" fill="#4066b1" stroke="#2e2a2c" stroke-width="0.85"/>
<rect x="737.39" y="315.93" width="10.5" height="0.68" fill="#3b2a26" stroke="#2e2a2c" stroke-width="0.85"/>
<rect x="748.8" y="316.61" width="10.5" height="0.59" fill="#4066b1" stroke="#2e2a2c" stroke-width="0.85"/>
<rect x="748.8" y="315.93" width="10.5" height="0.68" fill="#3b2a26" stroke="#2e2a2c" stroke-width="0.85"/>
<rect x="760.21" y="316.61" width="10.5" height="0.59" fill="#4066b1" stroke="#2e2a2c" stroke-width="0.85"/>
<rect x="760.21" y="315.93" width="10.5" height="0.68" fill="#3b2a26" stroke="#2e2a2c" stroke-width="0.85"/>
<rect x="771.62" y="316.61" width="10.5" height="0.59" fill="#4066b1" stroke="#2e2a2c" stroke-width="0.85"/>
<rect x="771.62" y="315.93" width="10.5" height="0.68" fill="#3b2a26" stroke="#2e2a2c" stroke-width="0.85"/>
<rect x="783.02" y="316.61" width="10.5" height="0.59" fill="#4066b1" stroke="#2e2a2c" stroke-width="0.85"/>
<rect x="783.02" y="315.93" width="10.5" height="0.68" fill="#3b2a26" stroke="#2e2a2c" stroke-width="0.85"/>
<rect x="794.43" y="316.22" width="10.5" height="0.98" fill="#4066b1" stroke="#2e2a2c" stroke-width="0.85"/>
<rect x="794.43" y="315.25" width="10.5" height="0.98" fill="#3b2a26" stroke="#2e2a2c" stroke-width="0.85"/>
<rect x="517.3" y="346" width="300.4" height="259" fill="#fff" stroke="#5e5654" stroke-width="1.1"/>
<line x1="513" y1="593.4" x2="517.3" y2="593.4" stroke="#5e5654" stroke-width="1"/>
<line x1="513" y1="534.57" x2="517.3" y2="534.57" stroke="#5e5654" stroke-width="1"/>
<line x1="513" y1="475.74" x2="517.3" y2="475.74" stroke="#5e5654" stroke-width="1"/>
<line x1="513" y1="416.91" x2="517.3" y2="416.91" stroke="#5e5654" stroke-width="1"/>
<line x1="513" y1="358.08" x2="517.3" y2="358.08" stroke="#5e5654" stroke-width="1"/>
<line x1="525" y1="605" x2="525" y2="609.6" stroke="#5e5654" stroke-width="1"/>
<line x1="570.63" y1="605" x2="570.63" y2="609.6" stroke="#5e5654" stroke-width="1"/>
<line x1="616.26" y1="605" x2="616.26" y2="609.6" stroke="#5e5654" stroke-width="1"/>
<line x1="661.89" y1="605" x2="661.89" y2="609.6" stroke="#5e5654" stroke-width="1"/>
<line x1="707.52" y1="605" x2="707.52" y2="609.6" stroke="#5e5654" stroke-width="1"/>
<line x1="753.15" y1="605" x2="753.15" y2="609.6" stroke="#5e5654" stroke-width="1"/>
<line x1="798.78" y1="605" x2="798.78" y2="609.6" stroke="#5e5654" stroke-width="1"/>
<text x="574.13" y="639" text-anchor="middle" font-size="25">20</text>
<text x="665.39" y="639" text-anchor="middle" font-size="25">28</text>
<text x="756.65" y="639" text-anchor="middle" font-size="25">36</text>
<rect x="531.56" y="589.67" width="10.5" height="3.73" fill="#4066b1" stroke="#2e2a2c" stroke-width="0.85"/>
<rect x="531.56" y="588.5" width="10.5" height="1.18" fill="#3b2a26" stroke="#2e2a2c" stroke-width="0.85"/>
<rect x="531.56" y="587.32" width="10.5" height="1.18" fill="#efe93a" stroke="#2e2a2c" stroke-width="0.85"/>
<rect x="542.97" y="588.89" width="10.5" height="4.51" fill="#4066b1" stroke="#2e2a2c" stroke-width="0.85"/>
<rect x="542.97" y="587.71" width="10.5" height="1.18" fill="#3b2a26" stroke="#2e2a2c" stroke-width="0.85"/>
<rect x="542.97" y="586.73" width="10.5" height="0.98" fill="#efe93a" stroke="#2e2a2c" stroke-width="0.85"/>
<rect x="554.37" y="585.56" width="10.5" height="7.84" fill="#4066b1" stroke="#2e2a2c" stroke-width="0.85"/>
<rect x="554.37" y="584.38" width="10.5" height="1.18" fill="#3b2a26" stroke="#2e2a2c" stroke-width="0.85"/>
<rect x="554.37" y="583.4" width="10.5" height="0.98" fill="#efe93a" stroke="#2e2a2c" stroke-width="0.85"/>
<rect x="565.78" y="580.07" width="10.5" height="13.33" fill="#4066b1" stroke="#2e2a2c" stroke-width="0.85"/>
<rect x="565.78" y="578.89" width="10.5" height="1.18" fill="#3b2a26" stroke="#2e2a2c" stroke-width="0.85"/>
<rect x="565.78" y="577.91" width="10.5" height="0.98" fill="#efe93a" stroke="#2e2a2c" stroke-width="0.85"/>
<rect x="577.19" y="566.34" width="10.5" height="27.06" fill="#4066b1" stroke="#2e2a2c" stroke-width="0.85"/>
<rect x="577.19" y="565.16" width="10.5" height="1.18" fill="#3b2a26" stroke="#2e2a2c" stroke-width="0.85"/>
<rect x="577.19" y="563.99" width="10.5" height="1.18" fill="#ee3a33" stroke="#2e2a2c" stroke-width="0.85"/>
<rect x="577.19" y="562.61" width="10.5" height="1.37" fill="#efe93a" stroke="#2e2a2c" stroke-width="0.85"/>
<rect x="588.6" y="535.75" width="10.5" height="57.65" fill="#4066b1" stroke="#2e2a2c" stroke-width="0.85"/>
<rect x="588.6" y="534.57" width="10.5" height="1.18" fill="#3b2a26" stroke="#2e2a2c" stroke-width="0.85"/>
<rect x="588.6" y="532.61" width="10.5" height="1.96" fill="#ee3a33" stroke="#2e2a2c" stroke-width="0.85"/>
<rect x="588.6" y="530.84" width="10.5" height="1.76" fill="#efe93a" stroke="#2e2a2c" stroke-width="0.85"/>
<rect x="600" y="510.06" width="10.5" height="83.34" fill="#4066b1" stroke="#2e2a2c" stroke-width="0.85"/>
<rect x="600" y="508.88" width="10.5" height="1.18" fill="#3b2a26" stroke="#2e2a2c" stroke-width="0.85"/>
<rect x="600" y="506.53" width="10.5" height="2.35" fill="#efe93a" stroke="#2e2a2c" stroke-width="0.85"/>
<rect x="611.41" y="521.43" width="10.5" height="71.97" fill="#4066b1" stroke="#2e2a2c" stroke-width="0.85"/>
<rect x="611.41" y="520.25" width="10.5" height="1.18" fill="#3b2a26" stroke="#2e2a2c" stroke-width="0.85"/>
<rect x="611.41" y="518.69" width="10.5" height="1.57" fill="#efe93a" stroke="#2e2a2c" stroke-width="0.85"/>
<rect x="622.82" y="534.37" width="10.5" height="59.03" fill="#4066b1" stroke="#2e2a2c" stroke-width="0.85"/>
<rect x="622.82" y="533.2" width="10.5" height="1.18" fill="#3b2a26" stroke="#2e2a2c" stroke-width="0.85"/>
<rect x="622.82" y="532.02" width="10.5" height="1.18" fill="#efe93a" stroke="#2e2a2c" stroke-width="0.85"/>
<rect x="634.23" y="524.76" width="10.5" height="68.63" fill="#4066b1" stroke="#2e2a2c" stroke-width="0.85"/>
<rect x="634.23" y="523.59" width="10.5" height="1.18" fill="#3b2a26" stroke="#2e2a2c" stroke-width="0.85"/>
<rect x="634.23" y="522.22" width="10.5" height="1.37" fill="#efe93a" stroke="#2e2a2c" stroke-width="0.85"/>
<rect x="645.63" y="501.23" width="10.5" height="92.17" fill="#4066b1" stroke="#2e2a2c" stroke-width="0.85"/>
<rect x="645.63" y="500.06" width="10.5" height="1.18" fill="#3b2a26" stroke="#2e2a2c" stroke-width="0.85"/>
<rect x="645.63" y="498.29" width="10.5" height="1.76" fill="#efe93a" stroke="#2e2a2c" stroke-width="0.85"/>
<rect x="657.04" y="442.4" width="10.5" height="151" fill="#4066b1" stroke="#2e2a2c" stroke-width="0.85"/>
<rect x="657.04" y="441.23" width="10.5" height="1.18" fill="#3b2a26" stroke="#2e2a2c" stroke-width="0.85"/>
<rect x="657.04" y="438.28" width="10.5" height="2.94" fill="#efe93a" stroke="#2e2a2c" stroke-width="0.85"/>
<rect x="668.45" y="384.75" width="10.5" height="208.65" fill="#4066b1" stroke="#2e2a2c" stroke-width="0.85"/>
<rect x="668.45" y="383.57" width="10.5" height="1.18" fill="#3b2a26" stroke="#2e2a2c" stroke-width="0.85"/>
<rect x="668.45" y="379.65" width="10.5" height="3.92" fill="#ee3a33" stroke="#2e2a2c" stroke-width="0.85"/>
<rect x="668.45" y="376.51" width="10.5" height="3.14" fill="#b2c6e0" stroke="#2e2a2c" stroke-width="0.85"/>
<rect x="668.45" y="364.75" width="10.5" height="11.77" fill="#efe93a" stroke="#2e2a2c" stroke-width="0.85"/>
<rect x="679.86" y="467.9" width="10.5" height="125.5" fill="#4066b1" stroke="#2e2a2c" stroke-width="0.85"/>
<rect x="679.86" y="466.72" width="10.5" height="1.18" fill="#3b2a26" stroke="#2e2a2c" stroke-width="0.85"/>
<rect x="679.86" y="462.21" width="10.5" height="4.51" fill="#efe93a" stroke="#2e2a2c" stroke-width="0.85"/>
<rect x="691.26" y="571.63" width="10.5" height="21.77" fill="#4066b1" stroke="#2e2a2c" stroke-width="0.85"/>
<rect x="691.26" y="570.46" width="10.5" height="1.18" fill="#3b2a26" stroke="#2e2a2c" stroke-width="0.85"/>
<rect x="691.26" y="569.87" width="10.5" height="0.59" fill="#efe93a" stroke="#2e2a2c" stroke-width="0.85"/>
<rect x="702.67" y="590.65" width="10.5" height="2.75" fill="#4066b1" stroke="#2e2a2c" stroke-width="0.85"/>
<rect x="702.67" y="589.48" width="10.5" height="1.18" fill="#3b2a26" stroke="#2e2a2c" stroke-width="0.85"/>
<rect x="714.08" y="592.81" width="10.5" height="0.59" fill="#4066b1" stroke="#2e2a2c" stroke-width="0.85"/>
<rect x="714.08" y="592.22" width="10.5" height="0.59" fill="#3b2a26" stroke="#2e2a2c" stroke-width="0.85"/>
<rect x="725.49" y="592.81" width="10.5" height="0.59" fill="#4066b1" stroke="#2e2a2c" stroke-width="0.85"/>
<rect x="725.49" y="592.22" width="10.5" height="0.59" fill="#3b2a26" stroke="#2e2a2c" stroke-width="0.85"/>
<rect x="736.89" y="592.81" width="10.5" height="0.59" fill="#4066b1" stroke="#2e2a2c" stroke-width="0.85"/>
<rect x="736.89" y="592.22" width="10.5" height="0.59" fill="#3b2a26" stroke="#2e2a2c" stroke-width="0.85"/>
<rect x="748.3" y="592.81" width="10.5" height="0.59" fill="#4066b1" stroke="#2e2a2c" stroke-width="0.85"/>
<rect x="748.3" y="592.22" width="10.5" height="0.59" fill="#3b2a26" stroke="#2e2a2c" stroke-width="0.85"/>
<rect x="759.71" y="592.81" width="10.5" height="0.59" fill="#4066b1" stroke="#2e2a2c" stroke-width="0.85"/>
<rect x="759.71" y="592.22" width="10.5" height="0.59" fill="#3b2a26" stroke="#2e2a2c" stroke-width="0.85"/>
<rect x="771.12" y="592.81" width="10.5" height="0.59" fill="#4066b1" stroke="#2e2a2c" stroke-width="0.85"/>
<rect x="771.12" y="592.22" width="10.5" height="0.59" fill="#3b2a26" stroke="#2e2a2c" stroke-width="0.85"/>
<rect x="782.52" y="592.81" width="10.5" height="0.59" fill="#4066b1" stroke="#2e2a2c" stroke-width="0.85"/>
<rect x="782.52" y="592.22" width="10.5" height="0.59" fill="#3b2a26" stroke="#2e2a2c" stroke-width="0.85"/>
<rect x="793.93" y="592.81" width="10.5" height="0.59" fill="#4066b1" stroke="#2e2a2c" stroke-width="0.85"/>
<rect x="793.93" y="592.22" width="10.5" height="0.59" fill="#3b2a26" stroke="#2e2a2c" stroke-width="0.85"/>
<rect x="835.2" y="70.2" width="300.2" height="259.3" fill="#fff" stroke="#5e5654" stroke-width="1.1"/>
<line x1="830.9" y1="318" x2="835.2" y2="318" stroke="#5e5654" stroke-width="1"/>
<line x1="830.9" y1="259.05" x2="835.2" y2="259.05" stroke="#5e5654" stroke-width="1"/>
<line x1="830.9" y1="200.1" x2="835.2" y2="200.1" stroke="#5e5654" stroke-width="1"/>
<line x1="830.9" y1="141.15" x2="835.2" y2="141.15" stroke="#5e5654" stroke-width="1"/>
<line x1="830.9" y1="82.2" x2="835.2" y2="82.2" stroke="#5e5654" stroke-width="1"/>
<line x1="842.7" y1="329.5" x2="842.7" y2="334.1" stroke="#5e5654" stroke-width="1"/>
<line x1="888.33" y1="329.5" x2="888.33" y2="334.1" stroke="#5e5654" stroke-width="1"/>
<line x1="933.96" y1="329.5" x2="933.96" y2="334.1" stroke="#5e5654" stroke-width="1"/>
<line x1="979.59" y1="329.5" x2="979.59" y2="334.1" stroke="#5e5654" stroke-width="1"/>
<line x1="1025.22" y1="329.5" x2="1025.22" y2="334.1" stroke="#5e5654" stroke-width="1"/>
<line x1="1070.85" y1="329.5" x2="1070.85" y2="334.1" stroke="#5e5654" stroke-width="1"/>
<line x1="1116.48" y1="329.5" x2="1116.48" y2="334.1" stroke="#5e5654" stroke-width="1"/>
<rect x="849.26" y="296.78" width="10.5" height="21.22" fill="#4066b1" stroke="#2e2a2c" stroke-width="0.85"/>
<rect x="849.26" y="295.6" width="10.5" height="1.18" fill="#3b2a26" stroke="#2e2a2c" stroke-width="0.85"/>
<rect x="849.26" y="293.44" width="10.5" height="2.16" fill="#efe93a" stroke="#2e2a2c" stroke-width="0.85"/>
<rect x="860.67" y="246.28" width="10.5" height="71.72" fill="#4066b1" stroke="#2e2a2c" stroke-width="0.85"/>
<rect x="860.67" y="245.1" width="10.5" height="1.18" fill="#3b2a26" stroke="#2e2a2c" stroke-width="0.85"/>
<rect x="860.67" y="242.94" width="10.5" height="2.16" fill="#efe93a" stroke="#2e2a2c" stroke-width="0.85"/>
<rect x="872.07" y="238.81" width="10.5" height="79.19" fill="#4066b1" stroke="#2e2a2c" stroke-width="0.85"/>
<rect x="872.07" y="237.63" width="10.5" height="1.18" fill="#3b2a26" stroke="#2e2a2c" stroke-width="0.85"/>
<rect x="872.07" y="236.06" width="10.5" height="1.57" fill="#ee3a33" stroke="#2e2a2c" stroke-width="0.85"/>
<rect x="872.07" y="234.09" width="10.5" height="1.96" fill="#efe93a" stroke="#2e2a2c" stroke-width="0.85"/>
<rect x="883.48" y="278.7" width="10.5" height="39.3" fill="#4066b1" stroke="#2e2a2c" stroke-width="0.85"/>
<rect x="883.48" y="277.52" width="10.5" height="1.18" fill="#3b2a26" stroke="#2e2a2c" stroke-width="0.85"/>
<rect x="883.48" y="276.93" width="10.5" height="0.59" fill="#efe93a" stroke="#2e2a2c" stroke-width="0.85"/>
<rect x="894.89" y="294.81" width="10.5" height="23.19" fill="#4066b1" stroke="#2e2a2c" stroke-width="0.85"/>
<rect x="894.89" y="293.63" width="10.5" height="1.18" fill="#3b2a26" stroke="#2e2a2c" stroke-width="0.85"/>
<rect x="894.89" y="292.45" width="10.5" height="1.18" fill="#efe93a" stroke="#2e2a2c" stroke-width="0.85"/>
<rect x="906.3" y="269.46" width="10.5" height="48.54" fill="#4066b1" stroke="#2e2a2c" stroke-width="0.85"/>
<rect x="906.3" y="268.29" width="10.5" height="1.18" fill="#3b2a26" stroke="#2e2a2c" stroke-width="0.85"/>
<rect x="906.3" y="266.32" width="10.5" height="1.96" fill="#ee3a33" stroke="#2e2a2c" stroke-width="0.85"/>
<rect x="906.3" y="264.94" width="10.5" height="1.38" fill="#efe93a" stroke="#2e2a2c" stroke-width="0.85"/>
<rect x="917.7" y="243.92" width="10.5" height="74.08" fill="#4066b1" stroke="#2e2a2c" stroke-width="0.85"/>
<rect x="917.7" y="242.74" width="10.5" height="1.18" fill="#3b2a26" stroke="#2e2a2c" stroke-width="0.85"/>
<rect x="917.7" y="239.99" width="10.5" height="2.75" fill="#efe93a" stroke="#2e2a2c" stroke-width="0.85"/>
<rect x="929.11" y="260.43" width="10.5" height="57.57" fill="#4066b1" stroke="#2e2a2c" stroke-width="0.85"/>
<rect x="929.11" y="259.25" width="10.5" height="1.18" fill="#3b2a26" stroke="#2e2a2c" stroke-width="0.85"/>
<rect x="929.11" y="258.07" width="10.5" height="1.18" fill="#efe93a" stroke="#2e2a2c" stroke-width="0.85"/>
<rect x="940.52" y="283.22" width="10.5" height="34.78" fill="#4066b1" stroke="#2e2a2c" stroke-width="0.85"/>
<rect x="940.52" y="282.04" width="10.5" height="1.18" fill="#3b2a26" stroke="#2e2a2c" stroke-width="0.85"/>
<rect x="940.52" y="281.06" width="10.5" height="0.98" fill="#efe93a" stroke="#2e2a2c" stroke-width="0.85"/>
<rect x="951.93" y="288.52" width="10.5" height="29.47" fill="#4066b1" stroke="#2e2a2c" stroke-width="0.85"/>
<rect x="951.93" y="287.35" width="10.5" height="1.18" fill="#3b2a26" stroke="#2e2a2c" stroke-width="0.85"/>
<rect x="951.93" y="286.36" width="10.5" height="0.98" fill="#efe93a" stroke="#2e2a2c" stroke-width="0.85"/>
<rect x="963.33" y="286.56" width="10.5" height="31.44" fill="#4066b1" stroke="#2e2a2c" stroke-width="0.85"/>
<rect x="963.33" y="285.38" width="10.5" height="1.18" fill="#3b2a26" stroke="#2e2a2c" stroke-width="0.85"/>
<rect x="963.33" y="284.79" width="10.5" height="0.59" fill="#efe93a" stroke="#2e2a2c" stroke-width="0.85"/>
<rect x="974.74" y="272.81" width="10.5" height="45.19" fill="#4066b1" stroke="#2e2a2c" stroke-width="0.85"/>
<rect x="974.74" y="271.63" width="10.5" height="1.18" fill="#3b2a26" stroke="#2e2a2c" stroke-width="0.85"/>
<rect x="974.74" y="270.84" width="10.5" height="0.79" fill="#efe93a" stroke="#2e2a2c" stroke-width="0.85"/>
<rect x="986.15" y="255.91" width="10.5" height="62.09" fill="#4066b1" stroke="#2e2a2c" stroke-width="0.85"/>
<rect x="986.15" y="254.73" width="10.5" height="1.18" fill="#3b2a26" stroke="#2e2a2c" stroke-width="0.85"/>
<rect x="986.15" y="253.55" width="10.5" height="1.18" fill="#ee3a33" stroke="#2e2a2c" stroke-width="0.85"/>
<rect x="986.15" y="251.19" width="10.5" height="2.36" fill="#b2c6e0" stroke="#2e2a2c" stroke-width="0.85"/>
<rect x="986.15" y="245.1" width="10.5" height="6.09" fill="#efe93a" stroke="#2e2a2c" stroke-width="0.85"/>
<rect x="997.56" y="272.81" width="10.5" height="45.19" fill="#4066b1" stroke="#2e2a2c" stroke-width="0.85"/>
<rect x="997.56" y="271.63" width="10.5" height="1.18" fill="#3b2a26" stroke="#2e2a2c" stroke-width="0.85"/>
<rect x="997.56" y="269.07" width="10.5" height="2.55" fill="#efe93a" stroke="#2e2a2c" stroke-width="0.85"/>
<rect x="1008.96" y="308.37" width="10.5" height="9.63" fill="#4066b1" stroke="#2e2a2c" stroke-width="0.85"/>
<rect x="1008.96" y="307.19" width="10.5" height="1.18" fill="#3b2a26" stroke="#2e2a2c" stroke-width="0.85"/>
<rect x="1008.96" y="307" width="10.5" height="0.2" fill="#efe93a" stroke="#2e2a2c" stroke-width="0.85"/>
<rect x="1020.37" y="316.23" width="10.5" height="1.77" fill="#4066b1" stroke="#2e2a2c" stroke-width="0.85"/>
<rect x="1020.37" y="315.25" width="10.5" height="0.98" fill="#3b2a26" stroke="#2e2a2c" stroke-width="0.85"/>
<rect x="1031.78" y="317.41" width="10.5" height="0.59" fill="#4066b1" stroke="#2e2a2c" stroke-width="0.85"/>
<rect x="1031.78" y="316.82" width="10.5" height="0.59" fill="#3b2a26" stroke="#2e2a2c" stroke-width="0.85"/>
<rect x="1043.19" y="317.41" width="10.5" height="0.59" fill="#4066b1" stroke="#2e2a2c" stroke-width="0.85"/>
<rect x="1043.19" y="316.82" width="10.5" height="0.59" fill="#3b2a26" stroke="#2e2a2c" stroke-width="0.85"/>
<rect x="1054.59" y="317.41" width="10.5" height="0.59" fill="#4066b1" stroke="#2e2a2c" stroke-width="0.85"/>
<rect x="1054.59" y="316.82" width="10.5" height="0.59" fill="#3b2a26" stroke="#2e2a2c" stroke-width="0.85"/>
<rect x="1066" y="317.41" width="10.5" height="0.59" fill="#4066b1" stroke="#2e2a2c" stroke-width="0.85"/>
<rect x="1066" y="316.82" width="10.5" height="0.59" fill="#3b2a26" stroke="#2e2a2c" stroke-width="0.85"/>
<rect x="1077.41" y="317.41" width="10.5" height="0.59" fill="#4066b1" stroke="#2e2a2c" stroke-width="0.85"/>
<rect x="1077.41" y="316.82" width="10.5" height="0.59" fill="#3b2a26" stroke="#2e2a2c" stroke-width="0.85"/>
<rect x="1088.82" y="317.41" width="10.5" height="0.59" fill="#4066b1" stroke="#2e2a2c" stroke-width="0.85"/>
<rect x="1088.82" y="316.82" width="10.5" height="0.59" fill="#3b2a26" stroke="#2e2a2c" stroke-width="0.85"/>
<rect x="1100.22" y="317.41" width="10.5" height="0.59" fill="#4066b1" stroke="#2e2a2c" stroke-width="0.85"/>
<rect x="1100.22" y="316.82" width="10.5" height="0.59" fill="#3b2a26" stroke="#2e2a2c" stroke-width="0.85"/>
<rect x="1111.63" y="317.02" width="10.5" height="0.98" fill="#4066b1" stroke="#2e2a2c" stroke-width="0.85"/>
<rect x="1111.63" y="315.84" width="10.5" height="1.18" fill="#3b2a26" stroke="#2e2a2c" stroke-width="0.85"/>
<rect x="834.6" y="346.4" width="300.2" height="258.9" fill="#fff" stroke="#5e5654" stroke-width="1.1"/>
<line x1="830.3" y1="593.9" x2="834.6" y2="593.9" stroke="#5e5654" stroke-width="1"/>
<line x1="830.3" y1="535.01" x2="834.6" y2="535.01" stroke="#5e5654" stroke-width="1"/>
<line x1="830.3" y1="476.12" x2="834.6" y2="476.12" stroke="#5e5654" stroke-width="1"/>
<line x1="830.3" y1="417.23" x2="834.6" y2="417.23" stroke="#5e5654" stroke-width="1"/>
<line x1="830.3" y1="358.34" x2="834.6" y2="358.34" stroke="#5e5654" stroke-width="1"/>
<line x1="842.1" y1="605.3" x2="842.1" y2="609.9" stroke="#5e5654" stroke-width="1"/>
<line x1="887.73" y1="605.3" x2="887.73" y2="609.9" stroke="#5e5654" stroke-width="1"/>
<line x1="933.36" y1="605.3" x2="933.36" y2="609.9" stroke="#5e5654" stroke-width="1"/>
<line x1="978.99" y1="605.3" x2="978.99" y2="609.9" stroke="#5e5654" stroke-width="1"/>
<line x1="1024.62" y1="605.3" x2="1024.62" y2="609.9" stroke="#5e5654" stroke-width="1"/>
<line x1="1070.25" y1="605.3" x2="1070.25" y2="609.9" stroke="#5e5654" stroke-width="1"/>
<line x1="1115.88" y1="605.3" x2="1115.88" y2="609.9" stroke="#5e5654" stroke-width="1"/>
<text x="891.23" y="639.3" text-anchor="middle" font-size="25">20</text>
<text x="982.49" y="639.3" text-anchor="middle" font-size="25">28</text>
<text x="1073.75" y="639.3" text-anchor="middle" font-size="25">36</text>
<rect x="848.66" y="591.15" width="10.5" height="2.75" fill="#4066b1" stroke="#2e2a2c" stroke-width="0.85"/>
<rect x="848.66" y="589.97" width="10.5" height="1.18" fill="#3b2a26" stroke="#2e2a2c" stroke-width="0.85"/>
<rect x="848.66" y="589.19" width="10.5" height="0.79" fill="#efe93a" stroke="#2e2a2c" stroke-width="0.85"/>
<rect x="860.07" y="590.17" width="10.5" height="3.73" fill="#4066b1" stroke="#2e2a2c" stroke-width="0.85"/>
<rect x="860.07" y="588.99" width="10.5" height="1.18" fill="#3b2a26" stroke="#2e2a2c" stroke-width="0.85"/>
<rect x="860.07" y="588.4" width="10.5" height="0.59" fill="#efe93a" stroke="#2e2a2c" stroke-width="0.85"/>
<rect x="871.47" y="587.42" width="10.5" height="6.48" fill="#4066b1" stroke="#2e2a2c" stroke-width="0.85"/>
<rect x="871.47" y="586.24" width="10.5" height="1.18" fill="#3b2a26" stroke="#2e2a2c" stroke-width="0.85"/>
<rect x="871.47" y="585.66" width="10.5" height="0.59" fill="#efe93a" stroke="#2e2a2c" stroke-width="0.85"/>
<rect x="882.88" y="583.3" width="10.5" height="10.6" fill="#4066b1" stroke="#2e2a2c" stroke-width="0.85"/>
<rect x="882.88" y="582.12" width="10.5" height="1.18" fill="#3b2a26" stroke="#2e2a2c" stroke-width="0.85"/>
<rect x="882.88" y="581.14" width="10.5" height="0.98" fill="#efe93a" stroke="#2e2a2c" stroke-width="0.85"/>
<rect x="894.29" y="572.31" width="10.5" height="21.59" fill="#4066b1" stroke="#2e2a2c" stroke-width="0.85"/>
<rect x="894.29" y="571.13" width="10.5" height="1.18" fill="#3b2a26" stroke="#2e2a2c" stroke-width="0.85"/>
<rect x="894.29" y="569.76" width="10.5" height="1.37" fill="#efe93a" stroke="#2e2a2c" stroke-width="0.85"/>
<rect x="905.7" y="549.73" width="10.5" height="44.17" fill="#4066b1" stroke="#2e2a2c" stroke-width="0.85"/>
<rect x="905.7" y="548.55" width="10.5" height="1.18" fill="#3b2a26" stroke="#2e2a2c" stroke-width="0.85"/>
<rect x="905.7" y="546.59" width="10.5" height="1.96" fill="#ee3a33" stroke="#2e2a2c" stroke-width="0.85"/>
<rect x="905.7" y="545.22" width="10.5" height="1.37" fill="#efe93a" stroke="#2e2a2c" stroke-width="0.85"/>
<rect x="917.1" y="527.55" width="10.5" height="66.35" fill="#4066b1" stroke="#2e2a2c" stroke-width="0.85"/>
<rect x="917.1" y="526.37" width="10.5" height="1.18" fill="#3b2a26" stroke="#2e2a2c" stroke-width="0.85"/>
<rect x="917.1" y="524.41" width="10.5" height="1.96" fill="#efe93a" stroke="#2e2a2c" stroke-width="0.85"/>
<rect x="928.51" y="536.58" width="10.5" height="57.32" fill="#4066b1" stroke="#2e2a2c" stroke-width="0.85"/>
<rect x="928.51" y="535.4" width="10.5" height="1.18" fill="#3b2a26" stroke="#2e2a2c" stroke-width="0.85"/>
<rect x="928.51" y="533.83" width="10.5" height="1.57" fill="#efe93a" stroke="#2e2a2c" stroke-width="0.85"/>
<rect x="939.92" y="548.55" width="10.5" height="45.35" fill="#4066b1" stroke="#2e2a2c" stroke-width="0.85"/>
<rect x="939.92" y="547.38" width="10.5" height="1.18" fill="#3b2a26" stroke="#2e2a2c" stroke-width="0.85"/>
<rect x="939.92" y="546" width="10.5" height="1.37" fill="#efe93a" stroke="#2e2a2c" stroke-width="0.85"/>
<rect x="951.33" y="540.11" width="10.5" height="53.79" fill="#4066b1" stroke="#2e2a2c" stroke-width="0.85"/>
<rect x="951.33" y="538.94" width="10.5" height="1.18" fill="#3b2a26" stroke="#2e2a2c" stroke-width="0.85"/>
<rect x="951.33" y="537.56" width="10.5" height="1.37" fill="#efe93a" stroke="#2e2a2c" stroke-width="0.85"/>
<rect x="962.73" y="522.84" width="10.5" height="71.06" fill="#4066b1" stroke="#2e2a2c" stroke-width="0.85"/>
<rect x="962.73" y="521.66" width="10.5" height="1.18" fill="#3b2a26" stroke="#2e2a2c" stroke-width="0.85"/>
<rect x="962.73" y="520.09" width="10.5" height="1.57" fill="#efe93a" stroke="#2e2a2c" stroke-width="0.85"/>
<rect x="974.14" y="485.35" width="10.5" height="108.55" fill="#4066b1" stroke="#2e2a2c" stroke-width="0.85"/>
<rect x="974.14" y="484.17" width="10.5" height="1.18" fill="#3b2a26" stroke="#2e2a2c" stroke-width="0.85"/>
<rect x="974.14" y="481.81" width="10.5" height="2.36" fill="#efe93a" stroke="#2e2a2c" stroke-width="0.85"/>
<rect x="985.55" y="449.42" width="10.5" height="144.48" fill="#4066b1" stroke="#2e2a2c" stroke-width="0.85"/>
<rect x="985.55" y="448.25" width="10.5" height="1.18" fill="#3b2a26" stroke="#2e2a2c" stroke-width="0.85"/>
<rect x="985.55" y="444.91" width="10.5" height="3.34" fill="#ee3a33" stroke="#2e2a2c" stroke-width="0.85"/>
<rect x="985.55" y="441.37" width="10.5" height="3.53" fill="#b2c6e0" stroke="#2e2a2c" stroke-width="0.85"/>
<rect x="985.55" y="430.97" width="10.5" height="10.4" fill="#efe93a" stroke="#2e2a2c" stroke-width="0.85"/>
<rect x="996.96" y="505.56" width="10.5" height="88.33" fill="#4066b1" stroke="#2e2a2c" stroke-width="0.85"/>
<rect x="996.96" y="504.39" width="10.5" height="1.18" fill="#3b2a26" stroke="#2e2a2c" stroke-width="0.85"/>
<rect x="996.96" y="500.46" width="10.5" height="3.93" fill="#efe93a" stroke="#2e2a2c" stroke-width="0.85"/>
<rect x="1008.36" y="578.2" width="10.5" height="15.7" fill="#4066b1" stroke="#2e2a2c" stroke-width="0.85"/>
<rect x="1008.36" y="577.02" width="10.5" height="1.18" fill="#3b2a26" stroke="#2e2a2c" stroke-width="0.85"/>
<rect x="1008.36" y="576.43" width="10.5" height="0.59" fill="#efe93a" stroke="#2e2a2c" stroke-width="0.85"/>
<rect x="1019.77" y="591.94" width="10.5" height="1.96" fill="#4066b1" stroke="#2e2a2c" stroke-width="0.85"/>
<rect x="1019.77" y="590.76" width="10.5" height="1.18" fill="#3b2a26" stroke="#2e2a2c" stroke-width="0.85"/>
<rect x="1019.77" y="590.56" width="10.5" height="0.2" fill="#efe93a" stroke="#2e2a2c" stroke-width="0.85"/>
<rect x="1031.18" y="593.31" width="10.5" height="0.59" fill="#4066b1" stroke="#2e2a2c" stroke-width="0.85"/>
<rect x="1031.18" y="592.53" width="10.5" height="0.79" fill="#3b2a26" stroke="#2e2a2c" stroke-width="0.85"/>
<rect x="1042.59" y="593.31" width="10.5" height="0.59" fill="#4066b1" stroke="#2e2a2c" stroke-width="0.85"/>
<rect x="1042.59" y="592.53" width="10.5" height="0.79" fill="#3b2a26" stroke="#2e2a2c" stroke-width="0.85"/>
<rect x="1053.99" y="593.31" width="10.5" height="0.59" fill="#4066b1" stroke="#2e2a2c" stroke-width="0.85"/>
<rect x="1053.99" y="592.53" width="10.5" height="0.79" fill="#3b2a26" stroke="#2e2a2c" stroke-width="0.85"/>
<rect x="1065.4" y="593.31" width="10.5" height="0.59" fill="#4066b1" stroke="#2e2a2c" stroke-width="0.85"/>
<rect x="1065.4" y="592.53" width="10.5" height="0.79" fill="#3b2a26" stroke="#2e2a2c" stroke-width="0.85"/>
<rect x="1076.81" y="593.31" width="10.5" height="0.59" fill="#4066b1" stroke="#2e2a2c" stroke-width="0.85"/>
<rect x="1076.81" y="592.53" width="10.5" height="0.79" fill="#3b2a26" stroke="#2e2a2c" stroke-width="0.85"/>
<rect x="1088.22" y="593.31" width="10.5" height="0.59" fill="#4066b1" stroke="#2e2a2c" stroke-width="0.85"/>
<rect x="1088.22" y="592.53" width="10.5" height="0.79" fill="#3b2a26" stroke="#2e2a2c" stroke-width="0.85"/>
<rect x="1099.62" y="593.31" width="10.5" height="0.59" fill="#4066b1" stroke="#2e2a2c" stroke-width="0.85"/>
<rect x="1099.62" y="592.53" width="10.5" height="0.79" fill="#3b2a26" stroke="#2e2a2c" stroke-width="0.85"/>
<rect x="1111.03" y="593.11" width="10.5" height="0.79" fill="#4066b1" stroke="#2e2a2c" stroke-width="0.85"/>
<rect x="1111.03" y="592.13" width="10.5" height="0.98" fill="#3b2a26" stroke="#2e2a2c" stroke-width="0.85"/>
<rect x="1153.3" y="70.5" width="300.2" height="259.5" fill="#fff" stroke="#5e5654" stroke-width="1.1"/>
<line x1="1149" y1="318.2" x2="1153.3" y2="318.2" stroke="#5e5654" stroke-width="1"/>
<line x1="1149" y1="259.31" x2="1153.3" y2="259.31" stroke="#5e5654" stroke-width="1"/>
<line x1="1149" y1="200.42" x2="1153.3" y2="200.42" stroke="#5e5654" stroke-width="1"/>
<line x1="1149" y1="141.53" x2="1153.3" y2="141.53" stroke="#5e5654" stroke-width="1"/>
<line x1="1149" y1="82.64" x2="1153.3" y2="82.64" stroke="#5e5654" stroke-width="1"/>
<line x1="1160.5" y1="330" x2="1160.5" y2="334.6" stroke="#5e5654" stroke-width="1"/>
<line x1="1206.13" y1="330" x2="1206.13" y2="334.6" stroke="#5e5654" stroke-width="1"/>
<line x1="1251.76" y1="330" x2="1251.76" y2="334.6" stroke="#5e5654" stroke-width="1"/>
<line x1="1297.39" y1="330" x2="1297.39" y2="334.6" stroke="#5e5654" stroke-width="1"/>
<line x1="1343.02" y1="330" x2="1343.02" y2="334.6" stroke="#5e5654" stroke-width="1"/>
<line x1="1388.65" y1="330" x2="1388.65" y2="334.6" stroke="#5e5654" stroke-width="1"/>
<line x1="1434.28" y1="330" x2="1434.28" y2="334.6" stroke="#5e5654" stroke-width="1"/>
<rect x="1167.06" y="299.36" width="10.5" height="18.84" fill="#4066b1" stroke="#2e2a2c" stroke-width="0.85"/>
<rect x="1167.06" y="298.18" width="10.5" height="1.18" fill="#3b2a26" stroke="#2e2a2c" stroke-width="0.85"/>
<rect x="1167.06" y="297.39" width="10.5" height="0.79" fill="#efe93a" stroke="#2e2a2c" stroke-width="0.85"/>
<rect x="1178.47" y="263.63" width="10.5" height="54.57" fill="#4066b1" stroke="#2e2a2c" stroke-width="0.85"/>
<rect x="1178.47" y="262.45" width="10.5" height="1.18" fill="#3b2a26" stroke="#2e2a2c" stroke-width="0.85"/>
<rect x="1178.47" y="261.47" width="10.5" height="0.98" fill="#efe93a" stroke="#2e2a2c" stroke-width="0.85"/>
<rect x="1189.87" y="262.45" width="10.5" height="55.75" fill="#4066b1" stroke="#2e2a2c" stroke-width="0.85"/>
<rect x="1189.87" y="261.27" width="10.5" height="1.18" fill="#3b2a26" stroke="#2e2a2c" stroke-width="0.85"/>
<rect x="1189.87" y="259.7" width="10.5" height="1.57" fill="#efe93a" stroke="#2e2a2c" stroke-width="0.85"/>
<rect x="1201.28" y="278.94" width="10.5" height="39.26" fill="#4066b1" stroke="#2e2a2c" stroke-width="0.85"/>
<rect x="1201.28" y="277.76" width="10.5" height="1.18" fill="#3b2a26" stroke="#2e2a2c" stroke-width="0.85"/>
<rect x="1201.28" y="277.37" width="10.5" height="0.39" fill="#efe93a" stroke="#2e2a2c" stroke-width="0.85"/>
<rect x="1212.69" y="252.83" width="10.5" height="65.37" fill="#4066b1" stroke="#2e2a2c" stroke-width="0.85"/>
<rect x="1212.69" y="251.65" width="10.5" height="1.18" fill="#3b2a26" stroke="#2e2a2c" stroke-width="0.85"/>
<rect x="1212.69" y="249.69" width="10.5" height="1.96" fill="#ee3a33" stroke="#2e2a2c" stroke-width="0.85"/>
<rect x="1212.69" y="249.5" width="10.5" height="0.2" fill="#efe93a" stroke="#2e2a2c" stroke-width="0.85"/>
<rect x="1224.1" y="203.36" width="10.5" height="114.84" fill="#4066b1" stroke="#2e2a2c" stroke-width="0.85"/>
<rect x="1224.1" y="202.19" width="10.5" height="1.18" fill="#3b2a26" stroke="#2e2a2c" stroke-width="0.85"/>
<rect x="1224.1" y="198.26" width="10.5" height="3.93" fill="#ee3a33" stroke="#2e2a2c" stroke-width="0.85"/>
<rect x="1224.1" y="194.14" width="10.5" height="4.12" fill="#efe93a" stroke="#2e2a2c" stroke-width="0.85"/>
<rect x="1235.5" y="214.36" width="10.5" height="103.84" fill="#4066b1" stroke="#2e2a2c" stroke-width="0.85"/>
<rect x="1235.5" y="213.18" width="10.5" height="1.18" fill="#3b2a26" stroke="#2e2a2c" stroke-width="0.85"/>
<rect x="1235.5" y="211.22" width="10.5" height="1.96" fill="#ee3a33" stroke="#2e2a2c" stroke-width="0.85"/>
<rect x="1235.5" y="208.27" width="10.5" height="2.94" fill="#efe93a" stroke="#2e2a2c" stroke-width="0.85"/>
<rect x="1246.91" y="262.84" width="10.5" height="55.36" fill="#4066b1" stroke="#2e2a2c" stroke-width="0.85"/>
<rect x="1246.91" y="261.67" width="10.5" height="1.18" fill="#3b2a26" stroke="#2e2a2c" stroke-width="0.85"/>
<rect x="1246.91" y="261.27" width="10.5" height="0.39" fill="#efe93a" stroke="#2e2a2c" stroke-width="0.85"/>
<rect x="1258.32" y="293.66" width="10.5" height="24.54" fill="#4066b1" stroke="#2e2a2c" stroke-width="0.85"/>
<rect x="1258.32" y="292.48" width="10.5" height="1.18" fill="#3b2a26" stroke="#2e2a2c" stroke-width="0.85"/>
<rect x="1258.32" y="292.29" width="10.5" height="0.2" fill="#efe93a" stroke="#2e2a2c" stroke-width="0.85"/>
<rect x="1269.73" y="302.5" width="10.5" height="15.7" fill="#4066b1" stroke="#2e2a2c" stroke-width="0.85"/>
<rect x="1269.73" y="301.32" width="10.5" height="1.18" fill="#3b2a26" stroke="#2e2a2c" stroke-width="0.85"/>
<rect x="1281.13" y="307.4" width="10.5" height="10.8" fill="#4066b1" stroke="#2e2a2c" stroke-width="0.85"/>
<rect x="1281.13" y="306.42" width="10.5" height="0.98" fill="#3b2a26" stroke="#2e2a2c" stroke-width="0.85"/>
<rect x="1292.54" y="310.15" width="10.5" height="8.05" fill="#4066b1" stroke="#2e2a2c" stroke-width="0.85"/>
<rect x="1292.54" y="309.17" width="10.5" height="0.98" fill="#3b2a26" stroke="#2e2a2c" stroke-width="0.85"/>
<rect x="1303.95" y="310.54" width="10.5" height="7.66" fill="#4066b1" stroke="#2e2a2c" stroke-width="0.85"/>
<rect x="1303.95" y="309.37" width="10.5" height="1.18" fill="#3b2a26" stroke="#2e2a2c" stroke-width="0.85"/>
<rect x="1303.95" y="309.17" width="10.5" height="0.2" fill="#efe93a" stroke="#2e2a2c" stroke-width="0.85"/>
<rect x="1315.36" y="312.7" width="10.5" height="5.5" fill="#4066b1" stroke="#2e2a2c" stroke-width="0.85"/>
<rect x="1315.36" y="311.92" width="10.5" height="0.79" fill="#3b2a26" stroke="#2e2a2c" stroke-width="0.85"/>
<rect x="1326.76" y="317.41" width="10.5" height="0.79" fill="#4066b1" stroke="#2e2a2c" stroke-width="0.85"/>
<rect x="1326.76" y="316.83" width="10.5" height="0.59" fill="#3b2a26" stroke="#2e2a2c" stroke-width="0.85"/>
<rect x="1338.17" y="318" width="10.5" height="0.2" fill="#4066b1" stroke="#2e2a2c" stroke-width="0.85"/>
<rect x="1338.17" y="317.61" width="10.5" height="0.39" fill="#3b2a26" stroke="#2e2a2c" stroke-width="0.85"/>
<rect x="1349.58" y="318" width="10.5" height="0.2" fill="#4066b1" stroke="#2e2a2c" stroke-width="0.85"/>
<rect x="1349.58" y="317.61" width="10.5" height="0.39" fill="#3b2a26" stroke="#2e2a2c" stroke-width="0.85"/>
<rect x="1360.99" y="318" width="10.5" height="0.2" fill="#4066b1" stroke="#2e2a2c" stroke-width="0.85"/>
<rect x="1360.99" y="317.61" width="10.5" height="0.39" fill="#3b2a26" stroke="#2e2a2c" stroke-width="0.85"/>
<rect x="1372.39" y="318" width="10.5" height="0.2" fill="#4066b1" stroke="#2e2a2c" stroke-width="0.85"/>
<rect x="1372.39" y="317.61" width="10.5" height="0.39" fill="#3b2a26" stroke="#2e2a2c" stroke-width="0.85"/>
<rect x="1383.8" y="318" width="10.5" height="0.2" fill="#4066b1" stroke="#2e2a2c" stroke-width="0.85"/>
<rect x="1383.8" y="317.61" width="10.5" height="0.39" fill="#3b2a26" stroke="#2e2a2c" stroke-width="0.85"/>
<rect x="1395.21" y="318" width="10.5" height="0.2" fill="#4066b1" stroke="#2e2a2c" stroke-width="0.85"/>
<rect x="1395.21" y="317.61" width="10.5" height="0.39" fill="#3b2a26" stroke="#2e2a2c" stroke-width="0.85"/>
<rect x="1406.62" y="318" width="10.5" height="0.2" fill="#4066b1" stroke="#2e2a2c" stroke-width="0.85"/>
<rect x="1406.62" y="317.61" width="10.5" height="0.39" fill="#3b2a26" stroke="#2e2a2c" stroke-width="0.85"/>
<rect x="1418.02" y="318" width="10.5" height="0.2" fill="#4066b1" stroke="#2e2a2c" stroke-width="0.85"/>
<rect x="1418.02" y="317.61" width="10.5" height="0.39" fill="#3b2a26" stroke="#2e2a2c" stroke-width="0.85"/>
<rect x="1429.43" y="318" width="10.5" height="0.2" fill="#4066b1" stroke="#2e2a2c" stroke-width="0.85"/>
<rect x="1429.43" y="317.61" width="10.5" height="0.39" fill="#3b2a26" stroke="#2e2a2c" stroke-width="0.85"/>
<rect x="1152.3" y="347" width="300.4" height="259.2" fill="#fff" stroke="#5e5654" stroke-width="1.1"/>
<line x1="1148" y1="593.9" x2="1152.3" y2="593.9" stroke="#5e5654" stroke-width="1"/>
<line x1="1148" y1="535.04" x2="1152.3" y2="535.04" stroke="#5e5654" stroke-width="1"/>
<line x1="1148" y1="476.18" x2="1152.3" y2="476.18" stroke="#5e5654" stroke-width="1"/>
<line x1="1148" y1="417.32" x2="1152.3" y2="417.32" stroke="#5e5654" stroke-width="1"/>
<line x1="1148" y1="358.46" x2="1152.3" y2="358.46" stroke="#5e5654" stroke-width="1"/>
<line x1="1160" y1="606.2" x2="1160" y2="610.8" stroke="#5e5654" stroke-width="1"/>
<line x1="1205.63" y1="606.2" x2="1205.63" y2="610.8" stroke="#5e5654" stroke-width="1"/>
<line x1="1251.26" y1="606.2" x2="1251.26" y2="610.8" stroke="#5e5654" stroke-width="1"/>
<line x1="1296.89" y1="606.2" x2="1296.89" y2="610.8" stroke="#5e5654" stroke-width="1"/>
<line x1="1342.52" y1="606.2" x2="1342.52" y2="610.8" stroke="#5e5654" stroke-width="1"/>
<line x1="1388.15" y1="606.2" x2="1388.15" y2="610.8" stroke="#5e5654" stroke-width="1"/>
<line x1="1433.78" y1="606.2" x2="1433.78" y2="610.8" stroke="#5e5654" stroke-width="1"/>
<text x="1209.13" y="640.2" text-anchor="middle" font-size="25">20</text>
<text x="1300.39" y="640.2" text-anchor="middle" font-size="25">28</text>
<text x="1391.65" y="640.2" text-anchor="middle" font-size="25">36</text>
<rect x="1166.56" y="593.12" width="10.5" height="0.78" fill="#4066b1" stroke="#2e2a2c" stroke-width="0.85"/>
<rect x="1166.56" y="592.13" width="10.5" height="0.98" fill="#3b2a26" stroke="#2e2a2c" stroke-width="0.85"/>
<rect x="1177.97" y="592.53" width="10.5" height="1.37" fill="#4066b1" stroke="#2e2a2c" stroke-width="0.85"/>
<rect x="1177.97" y="591.55" width="10.5" height="0.98" fill="#3b2a26" stroke="#2e2a2c" stroke-width="0.85"/>
<rect x="1189.37" y="591.55" width="10.5" height="2.35" fill="#4066b1" stroke="#2e2a2c" stroke-width="0.85"/>
<rect x="1189.37" y="590.37" width="10.5" height="1.18" fill="#3b2a26" stroke="#2e2a2c" stroke-width="0.85"/>
<rect x="1189.37" y="590.17" width="10.5" height="0.2" fill="#efe93a" stroke="#2e2a2c" stroke-width="0.85"/>
<rect x="1200.78" y="589" width="10.5" height="4.91" fill="#4066b1" stroke="#2e2a2c" stroke-width="0.85"/>
<rect x="1200.78" y="587.82" width="10.5" height="1.18" fill="#3b2a26" stroke="#2e2a2c" stroke-width="0.85"/>
<rect x="1212.19" y="583.31" width="10.5" height="10.59" fill="#4066b1" stroke="#2e2a2c" stroke-width="0.85"/>
<rect x="1212.19" y="582.52" width="10.5" height="0.78" fill="#3b2a26" stroke="#2e2a2c" stroke-width="0.85"/>
<rect x="1212.19" y="580.56" width="10.5" height="1.96" fill="#ee3a33" stroke="#2e2a2c" stroke-width="0.85"/>
<rect x="1223.6" y="572.32" width="10.5" height="21.58" fill="#4066b1" stroke="#2e2a2c" stroke-width="0.85"/>
<rect x="1223.6" y="571.14" width="10.5" height="1.18" fill="#3b2a26" stroke="#2e2a2c" stroke-width="0.85"/>
<rect x="1223.6" y="567.22" width="10.5" height="3.92" fill="#ee3a33" stroke="#2e2a2c" stroke-width="0.85"/>
<rect x="1235" y="562.31" width="10.5" height="31.59" fill="#4066b1" stroke="#2e2a2c" stroke-width="0.85"/>
<rect x="1235" y="561.53" width="10.5" height="0.78" fill="#3b2a26" stroke="#2e2a2c" stroke-width="0.85"/>
<rect x="1235" y="559.96" width="10.5" height="1.57" fill="#ee3a33" stroke="#2e2a2c" stroke-width="0.85"/>
<rect x="1246.41" y="566.43" width="10.5" height="27.47" fill="#4066b1" stroke="#2e2a2c" stroke-width="0.85"/>
<rect x="1246.41" y="565.25" width="10.5" height="1.18" fill="#3b2a26" stroke="#2e2a2c" stroke-width="0.85"/>
<rect x="1246.41" y="565.25" width="10.5" height="0" fill="#efe93a" stroke="#2e2a2c" stroke-width="0.85"/>
<rect x="1257.82" y="571.73" width="10.5" height="22.17" fill="#4066b1" stroke="#2e2a2c" stroke-width="0.85"/>
<rect x="1257.82" y="570.75" width="10.5" height="0.98" fill="#3b2a26" stroke="#2e2a2c" stroke-width="0.85"/>
<rect x="1269.23" y="566.82" width="10.5" height="27.08" fill="#4066b1" stroke="#2e2a2c" stroke-width="0.85"/>
<rect x="1269.23" y="565.84" width="10.5" height="0.98" fill="#3b2a26" stroke="#2e2a2c" stroke-width="0.85"/>
<rect x="1280.63" y="557.6" width="10.5" height="36.3" fill="#4066b1" stroke="#2e2a2c" stroke-width="0.85"/>
<rect x="1280.63" y="556.43" width="10.5" height="1.18" fill="#3b2a26" stroke="#2e2a2c" stroke-width="0.85"/>
<rect x="1280.63" y="556.23" width="10.5" height="0.2" fill="#efe93a" stroke="#2e2a2c" stroke-width="0.85"/>
<rect x="1292.04" y="537.2" width="10.5" height="56.7" fill="#4066b1" stroke="#2e2a2c" stroke-width="0.85"/>
<rect x="1292.04" y="536.02" width="10.5" height="1.18" fill="#3b2a26" stroke="#2e2a2c" stroke-width="0.85"/>
<rect x="1292.04" y="535.43" width="10.5" height="0.59" fill="#efe93a" stroke="#2e2a2c" stroke-width="0.85"/>
<rect x="1303.45" y="516.6" width="10.5" height="77.3" fill="#4066b1" stroke="#2e2a2c" stroke-width="0.85"/>
<rect x="1303.45" y="515.42" width="10.5" height="1.18" fill="#3b2a26" stroke="#2e2a2c" stroke-width="0.85"/>
<rect x="1303.45" y="513.07" width="10.5" height="2.35" fill="#ee3a33" stroke="#2e2a2c" stroke-width="0.85"/>
<rect x="1303.45" y="511.5" width="10.5" height="1.57" fill="#b2c6e0" stroke="#2e2a2c" stroke-width="0.85"/>
<rect x="1303.45" y="506.98" width="10.5" height="4.51" fill="#efe93a" stroke="#2e2a2c" stroke-width="0.85"/>
<rect x="1314.86" y="544.46" width="10.5" height="49.44" fill="#4066b1" stroke="#2e2a2c" stroke-width="0.85"/>
<rect x="1314.86" y="543.28" width="10.5" height="1.18" fill="#3b2a26" stroke="#2e2a2c" stroke-width="0.85"/>
<rect x="1314.86" y="541.32" width="10.5" height="1.96" fill="#efe93a" stroke="#2e2a2c" stroke-width="0.85"/>
<rect x="1326.26" y="585.66" width="10.5" height="8.24" fill="#4066b1" stroke="#2e2a2c" stroke-width="0.85"/>
<rect x="1326.26" y="584.48" width="10.5" height="1.18" fill="#3b2a26" stroke="#2e2a2c" stroke-width="0.85"/>
<rect x="1326.26" y="584.29" width="10.5" height="0.2" fill="#efe93a" stroke="#2e2a2c" stroke-width="0.85"/>
<rect x="1337.67" y="593.31" width="10.5" height="0.59" fill="#4066b1" stroke="#2e2a2c" stroke-width="0.85"/>
<rect x="1337.67" y="592.72" width="10.5" height="0.59" fill="#3b2a26" stroke="#2e2a2c" stroke-width="0.85"/>
<rect x="1349.08" y="593.7" width="10.5" height="0.2" fill="#4066b1" stroke="#2e2a2c" stroke-width="0.85"/>
<rect x="1349.08" y="593.51" width="10.5" height="0.2" fill="#3b2a26" stroke="#2e2a2c" stroke-width="0.85"/>
<rect x="1360.49" y="593.7" width="10.5" height="0.2" fill="#4066b1" stroke="#2e2a2c" stroke-width="0.85"/>
<rect x="1360.49" y="593.51" width="10.5" height="0.2" fill="#3b2a26" stroke="#2e2a2c" stroke-width="0.85"/>
<rect x="1371.89" y="593.7" width="10.5" height="0.2" fill="#4066b1" stroke="#2e2a2c" stroke-width="0.85"/>
<rect x="1371.89" y="593.51" width="10.5" height="0.2" fill="#3b2a26" stroke="#2e2a2c" stroke-width="0.85"/>
<rect x="1383.3" y="593.7" width="10.5" height="0.2" fill="#4066b1" stroke="#2e2a2c" stroke-width="0.85"/>
<rect x="1383.3" y="593.51" width="10.5" height="0.2" fill="#3b2a26" stroke="#2e2a2c" stroke-width="0.85"/>
<rect x="1394.71" y="593.7" width="10.5" height="0.2" fill="#4066b1" stroke="#2e2a2c" stroke-width="0.85"/>
<rect x="1394.71" y="593.51" width="10.5" height="0.2" fill="#3b2a26" stroke="#2e2a2c" stroke-width="0.85"/>
<rect x="1406.12" y="593.7" width="10.5" height="0.2" fill="#4066b1" stroke="#2e2a2c" stroke-width="0.85"/>
<rect x="1406.12" y="593.51" width="10.5" height="0.2" fill="#3b2a26" stroke="#2e2a2c" stroke-width="0.85"/>
<rect x="1417.52" y="593.7" width="10.5" height="0.2" fill="#4066b1" stroke="#2e2a2c" stroke-width="0.85"/>
<rect x="1417.52" y="593.51" width="10.5" height="0.2" fill="#3b2a26" stroke="#2e2a2c" stroke-width="0.85"/>
<rect x="1428.93" y="593.51" width="10.5" height="0.39" fill="#4066b1" stroke="#2e2a2c" stroke-width="0.85"/>
<rect x="1428.93" y="592.92" width="10.5" height="0.59" fill="#3b2a26" stroke="#2e2a2c" stroke-width="0.85"/>
<rect x="1463.5" y="70.7" width="300.8" height="258.8" fill="#fff" stroke="#5e5654" stroke-width="1.1"/>
<line x1="1459.2" y1="318" x2="1463.5" y2="318" stroke="#5e5654" stroke-width="1"/>
<line x1="1459.2" y1="259.2" x2="1463.5" y2="259.2" stroke="#5e5654" stroke-width="1"/>
<line x1="1459.2" y1="200.4" x2="1463.5" y2="200.4" stroke="#5e5654" stroke-width="1"/>
<line x1="1459.2" y1="141.6" x2="1463.5" y2="141.6" stroke="#5e5654" stroke-width="1"/>
<line x1="1459.2" y1="82.8" x2="1463.5" y2="82.8" stroke="#5e5654" stroke-width="1"/>
<line x1="1471.3" y1="329.5" x2="1471.3" y2="334.1" stroke="#5e5654" stroke-width="1"/>
<line x1="1516.93" y1="329.5" x2="1516.93" y2="334.1" stroke="#5e5654" stroke-width="1"/>
<line x1="1562.56" y1="329.5" x2="1562.56" y2="334.1" stroke="#5e5654" stroke-width="1"/>
<line x1="1608.19" y1="329.5" x2="1608.19" y2="334.1" stroke="#5e5654" stroke-width="1"/>
<line x1="1653.82" y1="329.5" x2="1653.82" y2="334.1" stroke="#5e5654" stroke-width="1"/>
<line x1="1699.45" y1="329.5" x2="1699.45" y2="334.1" stroke="#5e5654" stroke-width="1"/>
<line x1="1745.08" y1="329.5" x2="1745.08" y2="334.1" stroke="#5e5654" stroke-width="1"/>
<rect x="1477.86" y="304.87" width="10.5" height="13.13" fill="#4066b1" stroke="#2e2a2c" stroke-width="0.85"/>
<rect x="1477.86" y="303.69" width="10.5" height="1.18" fill="#3b2a26" stroke="#2e2a2c" stroke-width="0.85"/>
<rect x="1477.86" y="302.32" width="10.5" height="1.37" fill="#efe93a" stroke="#2e2a2c" stroke-width="0.85"/>
<rect x="1489.27" y="291.15" width="10.5" height="26.85" fill="#4066b1" stroke="#2e2a2c" stroke-width="0.85"/>
<rect x="1489.27" y="289.97" width="10.5" height="1.18" fill="#3b2a26" stroke="#2e2a2c" stroke-width="0.85"/>
<rect x="1489.27" y="288.01" width="10.5" height="1.96" fill="#efe93a" stroke="#2e2a2c" stroke-width="0.85"/>
<rect x="1500.67" y="293.7" width="10.5" height="24.3" fill="#4066b1" stroke="#2e2a2c" stroke-width="0.85"/>
<rect x="1500.67" y="292.52" width="10.5" height="1.18" fill="#3b2a26" stroke="#2e2a2c" stroke-width="0.85"/>
<rect x="1500.67" y="291.15" width="10.5" height="1.37" fill="#efe93a" stroke="#2e2a2c" stroke-width="0.85"/>
<rect x="1512.08" y="300.16" width="10.5" height="17.84" fill="#4066b1" stroke="#2e2a2c" stroke-width="0.85"/>
<rect x="1512.08" y="298.99" width="10.5" height="1.18" fill="#3b2a26" stroke="#2e2a2c" stroke-width="0.85"/>
<rect x="1512.08" y="297.42" width="10.5" height="1.57" fill="#efe93a" stroke="#2e2a2c" stroke-width="0.85"/>
<rect x="1523.49" y="299.58" width="10.5" height="18.42" fill="#4066b1" stroke="#2e2a2c" stroke-width="0.85"/>
<rect x="1523.49" y="298.4" width="10.5" height="1.18" fill="#3b2a26" stroke="#2e2a2c" stroke-width="0.85"/>
<rect x="1523.49" y="294.87" width="10.5" height="3.53" fill="#ee3a33" stroke="#2e2a2c" stroke-width="0.85"/>
<rect x="1523.49" y="294.09" width="10.5" height="0.78" fill="#efe93a" stroke="#2e2a2c" stroke-width="0.85"/>
<rect x="1534.89" y="298.79" width="10.5" height="19.21" fill="#4066b1" stroke="#2e2a2c" stroke-width="0.85"/>
<rect x="1534.89" y="297.62" width="10.5" height="1.18" fill="#3b2a26" stroke="#2e2a2c" stroke-width="0.85"/>
<rect x="1534.89" y="290.76" width="10.5" height="6.86" fill="#ee3a33" stroke="#2e2a2c" stroke-width="0.85"/>
<rect x="1534.89" y="289.78" width="10.5" height="0.98" fill="#efe93a" stroke="#2e2a2c" stroke-width="0.85"/>
<rect x="1546.3" y="312.32" width="10.5" height="5.68" fill="#4066b1" stroke="#2e2a2c" stroke-width="0.85"/>
<rect x="1546.3" y="311.14" width="10.5" height="1.18" fill="#3b2a26" stroke="#2e2a2c" stroke-width="0.85"/>
<rect x="1546.3" y="309.57" width="10.5" height="1.57" fill="#ee3a33" stroke="#2e2a2c" stroke-width="0.85"/>
<rect x="1546.3" y="308.79" width="10.5" height="0.78" fill="#efe93a" stroke="#2e2a2c" stroke-width="0.85"/>
<rect x="1557.71" y="314.86" width="10.5" height="3.14" fill="#4066b1" stroke="#2e2a2c" stroke-width="0.85"/>
<rect x="1557.71" y="313.69" width="10.5" height="1.18" fill="#3b2a26" stroke="#2e2a2c" stroke-width="0.85"/>
<rect x="1557.71" y="312.32" width="10.5" height="1.37" fill="#efe93a" stroke="#2e2a2c" stroke-width="0.85"/>
<rect x="1569.12" y="315.65" width="10.5" height="2.35" fill="#4066b1" stroke="#2e2a2c" stroke-width="0.85"/>
<rect x="1569.12" y="314.47" width="10.5" height="1.18" fill="#3b2a26" stroke="#2e2a2c" stroke-width="0.85"/>
<rect x="1569.12" y="314.28" width="10.5" height="0.2" fill="#efe93a" stroke="#2e2a2c" stroke-width="0.85"/>
<rect x="1580.53" y="314.86" width="10.5" height="3.14" fill="#4066b1" stroke="#2e2a2c" stroke-width="0.85"/>
<rect x="1580.53" y="313.88" width="10.5" height="0.98" fill="#3b2a26" stroke="#2e2a2c" stroke-width="0.85"/>
<rect x="1591.93" y="315.26" width="10.5" height="2.74" fill="#4066b1" stroke="#2e2a2c" stroke-width="0.85"/>
<rect x="1591.93" y="314.28" width="10.5" height="0.98" fill="#3b2a26" stroke="#2e2a2c" stroke-width="0.85"/>
<rect x="1603.34" y="316.43" width="10.5" height="1.57" fill="#4066b1" stroke="#2e2a2c" stroke-width="0.85"/>
<rect x="1603.34" y="315.65" width="10.5" height="0.78" fill="#3b2a26" stroke="#2e2a2c" stroke-width="0.85"/>
<rect x="1614.75" y="316.82" width="10.5" height="1.18" fill="#4066b1" stroke="#2e2a2c" stroke-width="0.85"/>
<rect x="1614.75" y="316.04" width="10.5" height="0.78" fill="#3b2a26" stroke="#2e2a2c" stroke-width="0.85"/>
<rect x="1626.15" y="317.02" width="10.5" height="0.98" fill="#4066b1" stroke="#2e2a2c" stroke-width="0.85"/>
<rect x="1626.15" y="316.43" width="10.5" height="0.59" fill="#3b2a26" stroke="#2e2a2c" stroke-width="0.85"/>
<rect x="1637.56" y="317.61" width="10.5" height="0.39" fill="#4066b1" stroke="#2e2a2c" stroke-width="0.85"/>
<rect x="1637.56" y="317.22" width="10.5" height="0.39" fill="#3b2a26" stroke="#2e2a2c" stroke-width="0.85"/>
<rect x="1648.97" y="317.61" width="10.5" height="0.39" fill="#4066b1" stroke="#2e2a2c" stroke-width="0.85"/>
<rect x="1648.97" y="317.22" width="10.5" height="0.39" fill="#3b2a26" stroke="#2e2a2c" stroke-width="0.85"/>
<rect x="1660.38" y="317.61" width="10.5" height="0.39" fill="#4066b1" stroke="#2e2a2c" stroke-width="0.85"/>
<rect x="1660.38" y="317.22" width="10.5" height="0.39" fill="#3b2a26" stroke="#2e2a2c" stroke-width="0.85"/>
<rect x="1671.79" y="317.61" width="10.5" height="0.39" fill="#4066b1" stroke="#2e2a2c" stroke-width="0.85"/>
<rect x="1671.79" y="317.22" width="10.5" height="0.39" fill="#3b2a26" stroke="#2e2a2c" stroke-width="0.85"/>
<rect x="1683.19" y="317.61" width="10.5" height="0.39" fill="#4066b1" stroke="#2e2a2c" stroke-width="0.85"/>
<rect x="1683.19" y="317.22" width="10.5" height="0.39" fill="#3b2a26" stroke="#2e2a2c" stroke-width="0.85"/>
<rect x="1694.6" y="317.61" width="10.5" height="0.39" fill="#4066b1" stroke="#2e2a2c" stroke-width="0.85"/>
<rect x="1694.6" y="317.22" width="10.5" height="0.39" fill="#3b2a26" stroke="#2e2a2c" stroke-width="0.85"/>
<rect x="1706.01" y="317.61" width="10.5" height="0.39" fill="#4066b1" stroke="#2e2a2c" stroke-width="0.85"/>
<rect x="1706.01" y="317.22" width="10.5" height="0.39" fill="#3b2a26" stroke="#2e2a2c" stroke-width="0.85"/>
<rect x="1717.41" y="317.61" width="10.5" height="0.39" fill="#4066b1" stroke="#2e2a2c" stroke-width="0.85"/>
<rect x="1717.41" y="317.22" width="10.5" height="0.39" fill="#3b2a26" stroke="#2e2a2c" stroke-width="0.85"/>
<rect x="1728.82" y="317.61" width="10.5" height="0.39" fill="#4066b1" stroke="#2e2a2c" stroke-width="0.85"/>
<rect x="1728.82" y="317.22" width="10.5" height="0.39" fill="#3b2a26" stroke="#2e2a2c" stroke-width="0.85"/>
<rect x="1740.23" y="317.61" width="10.5" height="0.39" fill="#4066b1" stroke="#2e2a2c" stroke-width="0.85"/>
<rect x="1740.23" y="317.22" width="10.5" height="0.39" fill="#3b2a26" stroke="#2e2a2c" stroke-width="0.85"/>
<rect x="1463.2" y="346.4" width="300.4" height="258.9" fill="#fff" stroke="#5e5654" stroke-width="1.1"/>
<line x1="1458.9" y1="593.9" x2="1463.2" y2="593.9" stroke="#5e5654" stroke-width="1"/>
<line x1="1458.9" y1="535.01" x2="1463.2" y2="535.01" stroke="#5e5654" stroke-width="1"/>
<line x1="1458.9" y1="476.12" x2="1463.2" y2="476.12" stroke="#5e5654" stroke-width="1"/>
<line x1="1458.9" y1="417.23" x2="1463.2" y2="417.23" stroke="#5e5654" stroke-width="1"/>
<line x1="1458.9" y1="358.34" x2="1463.2" y2="358.34" stroke="#5e5654" stroke-width="1"/>
<line x1="1470.6" y1="605.3" x2="1470.6" y2="609.9" stroke="#5e5654" stroke-width="1"/>
<line x1="1516.23" y1="605.3" x2="1516.23" y2="609.9" stroke="#5e5654" stroke-width="1"/>
<line x1="1561.86" y1="605.3" x2="1561.86" y2="609.9" stroke="#5e5654" stroke-width="1"/>
<line x1="1607.49" y1="605.3" x2="1607.49" y2="609.9" stroke="#5e5654" stroke-width="1"/>
<line x1="1653.12" y1="605.3" x2="1653.12" y2="609.9" stroke="#5e5654" stroke-width="1"/>
<line x1="1698.75" y1="605.3" x2="1698.75" y2="609.9" stroke="#5e5654" stroke-width="1"/>
<line x1="1744.38" y1="605.3" x2="1744.38" y2="609.9" stroke="#5e5654" stroke-width="1"/>
<text x="1519.73" y="639.3" text-anchor="middle" font-size="25">20</text>
<text x="1610.99" y="639.3" text-anchor="middle" font-size="25">28</text>
<text x="1702.25" y="639.3" text-anchor="middle" font-size="25">36</text>
<rect x="1477.16" y="581.53" width="10.5" height="12.37" fill="#4066b1" stroke="#2e2a2c" stroke-width="0.85"/>
<rect x="1477.16" y="580.36" width="10.5" height="1.18" fill="#3b2a26" stroke="#2e2a2c" stroke-width="0.85"/>
<rect x="1477.16" y="579.77" width="10.5" height="0.59" fill="#efe93a" stroke="#2e2a2c" stroke-width="0.85"/>
<rect x="1488.57" y="573.29" width="10.5" height="20.61" fill="#4066b1" stroke="#2e2a2c" stroke-width="0.85"/>
<rect x="1488.57" y="572.11" width="10.5" height="1.18" fill="#3b2a26" stroke="#2e2a2c" stroke-width="0.85"/>
<rect x="1488.57" y="571.33" width="10.5" height="0.79" fill="#efe93a" stroke="#2e2a2c" stroke-width="0.85"/>
<rect x="1499.97" y="562.3" width="10.5" height="31.6" fill="#4066b1" stroke="#2e2a2c" stroke-width="0.85"/>
<rect x="1499.97" y="561.12" width="10.5" height="1.18" fill="#3b2a26" stroke="#2e2a2c" stroke-width="0.85"/>
<rect x="1499.97" y="559.15" width="10.5" height="1.96" fill="#efe93a" stroke="#2e2a2c" stroke-width="0.85"/>
<rect x="1511.38" y="543.45" width="10.5" height="50.45" fill="#4066b1" stroke="#2e2a2c" stroke-width="0.85"/>
<rect x="1511.38" y="542.27" width="10.5" height="1.18" fill="#3b2a26" stroke="#2e2a2c" stroke-width="0.85"/>
<rect x="1511.38" y="540.9" width="10.5" height="1.37" fill="#efe93a" stroke="#2e2a2c" stroke-width="0.85"/>
<rect x="1522.79" y="505.96" width="10.5" height="87.94" fill="#4066b1" stroke="#2e2a2c" stroke-width="0.85"/>
<rect x="1522.79" y="504.78" width="10.5" height="1.18" fill="#3b2a26" stroke="#2e2a2c" stroke-width="0.85"/>
<rect x="1522.79" y="502.23" width="10.5" height="2.55" fill="#ee3a33" stroke="#2e2a2c" stroke-width="0.85"/>
<rect x="1522.79" y="501.44" width="10.5" height="0.79" fill="#efe93a" stroke="#2e2a2c" stroke-width="0.85"/>
<rect x="1534.19" y="496.73" width="10.5" height="97.17" fill="#4066b1" stroke="#2e2a2c" stroke-width="0.85"/>
<rect x="1534.19" y="495.55" width="10.5" height="1.18" fill="#3b2a26" stroke="#2e2a2c" stroke-width="0.85"/>
<rect x="1534.19" y="489.86" width="10.5" height="5.69" fill="#ee3a33" stroke="#2e2a2c" stroke-width="0.85"/>
<rect x="1534.19" y="488.09" width="10.5" height="1.77" fill="#efe93a" stroke="#2e2a2c" stroke-width="0.85"/>
<rect x="1545.6" y="550.71" width="10.5" height="43.19" fill="#4066b1" stroke="#2e2a2c" stroke-width="0.85"/>
<rect x="1545.6" y="549.54" width="10.5" height="1.18" fill="#3b2a26" stroke="#2e2a2c" stroke-width="0.85"/>
<rect x="1545.6" y="548.36" width="10.5" height="1.18" fill="#ee3a33" stroke="#2e2a2c" stroke-width="0.85"/>
<rect x="1545.6" y="547.97" width="10.5" height="0.39" fill="#efe93a" stroke="#2e2a2c" stroke-width="0.85"/>
<rect x="1557.01" y="579.18" width="10.5" height="14.72" fill="#4066b1" stroke="#2e2a2c" stroke-width="0.85"/>
<rect x="1557.01" y="578" width="10.5" height="1.18" fill="#3b2a26" stroke="#2e2a2c" stroke-width="0.85"/>
<rect x="1557.01" y="577.8" width="10.5" height="0.2" fill="#efe93a" stroke="#2e2a2c" stroke-width="0.85"/>
<rect x="1568.42" y="588.21" width="10.5" height="5.69" fill="#4066b1" stroke="#2e2a2c" stroke-width="0.85"/>
<rect x="1568.42" y="587.23" width="10.5" height="0.98" fill="#3b2a26" stroke="#2e2a2c" stroke-width="0.85"/>
<rect x="1579.83" y="588.8" width="10.5" height="5.1" fill="#4066b1" stroke="#2e2a2c" stroke-width="0.85"/>
<rect x="1579.83" y="588.01" width="10.5" height="0.79" fill="#3b2a26" stroke="#2e2a2c" stroke-width="0.85"/>
<rect x="1591.23" y="590.56" width="10.5" height="3.34" fill="#4066b1" stroke="#2e2a2c" stroke-width="0.85"/>
<rect x="1591.23" y="589.78" width="10.5" height="0.79" fill="#3b2a26" stroke="#2e2a2c" stroke-width="0.85"/>
<rect x="1602.64" y="592.53" width="10.5" height="1.37" fill="#4066b1" stroke="#2e2a2c" stroke-width="0.85"/>
<rect x="1602.64" y="591.54" width="10.5" height="0.98" fill="#3b2a26" stroke="#2e2a2c" stroke-width="0.85"/>
<rect x="1614.05" y="593.11" width="10.5" height="0.79" fill="#4066b1" stroke="#2e2a2c" stroke-width="0.85"/>
<rect x="1614.05" y="592.53" width="10.5" height="0.59" fill="#3b2a26" stroke="#2e2a2c" stroke-width="0.85"/>
<rect x="1625.45" y="593.61" width="10.5" height="0.29" fill="#4066b1" stroke="#2e2a2c" stroke-width="0.85"/>
<rect x="1625.45" y="593.31" width="10.5" height="0.29" fill="#3b2a26" stroke="#2e2a2c" stroke-width="0.85"/>
<rect x="1636.86" y="593.7" width="10.5" height="0.2" fill="#4066b1" stroke="#2e2a2c" stroke-width="0.85"/>
<rect x="1636.86" y="593.51" width="10.5" height="0.2" fill="#3b2a26" stroke="#2e2a2c" stroke-width="0.85"/>
<rect x="1648.27" y="593.7" width="10.5" height="0.2" fill="#4066b1" stroke="#2e2a2c" stroke-width="0.85"/>
<rect x="1648.27" y="593.51" width="10.5" height="0.2" fill="#3b2a26" stroke="#2e2a2c" stroke-width="0.85"/>
<rect x="1659.68" y="593.7" width="10.5" height="0.2" fill="#4066b1" stroke="#2e2a2c" stroke-width="0.85"/>
<rect x="1659.68" y="593.51" width="10.5" height="0.2" fill="#3b2a26" stroke="#2e2a2c" stroke-width="0.85"/>
<rect x="1671.09" y="593.7" width="10.5" height="0.2" fill="#4066b1" stroke="#2e2a2c" stroke-width="0.85"/>
<rect x="1671.09" y="593.51" width="10.5" height="0.2" fill="#3b2a26" stroke="#2e2a2c" stroke-width="0.85"/>
<rect x="1682.49" y="593.7" width="10.5" height="0.2" fill="#4066b1" stroke="#2e2a2c" stroke-width="0.85"/>
<rect x="1682.49" y="593.51" width="10.5" height="0.2" fill="#3b2a26" stroke="#2e2a2c" stroke-width="0.85"/>
<rect x="1693.9" y="593.7" width="10.5" height="0.2" fill="#4066b1" stroke="#2e2a2c" stroke-width="0.85"/>
<rect x="1693.9" y="593.51" width="10.5" height="0.2" fill="#3b2a26" stroke="#2e2a2c" stroke-width="0.85"/>
<rect x="1705.31" y="593.7" width="10.5" height="0.2" fill="#4066b1" stroke="#2e2a2c" stroke-width="0.85"/>
<rect x="1705.31" y="593.51" width="10.5" height="0.2" fill="#3b2a26" stroke="#2e2a2c" stroke-width="0.85"/>
<rect x="1716.71" y="593.7" width="10.5" height="0.2" fill="#4066b1" stroke="#2e2a2c" stroke-width="0.85"/>
<rect x="1716.71" y="593.51" width="10.5" height="0.2" fill="#3b2a26" stroke="#2e2a2c" stroke-width="0.85"/>
<rect x="1728.12" y="593.7" width="10.5" height="0.2" fill="#4066b1" stroke="#2e2a2c" stroke-width="0.85"/>
<rect x="1728.12" y="593.51" width="10.5" height="0.2" fill="#3b2a26" stroke="#2e2a2c" stroke-width="0.85"/>
<rect x="1739.53" y="593.7" width="10.5" height="0.2" fill="#4066b1" stroke="#2e2a2c" stroke-width="0.85"/>
<rect x="1739.53" y="593.51" width="10.5" height="0.2" fill="#3b2a26" stroke="#2e2a2c" stroke-width="0.85"/>
<text x="355.4" y="670.5" text-anchor="middle" font-size="25">Length (nt)</text>
<text x="662" y="672" text-anchor="middle" font-size="25">Length (nt)</text>
<text x="979" y="672.5" text-anchor="middle" font-size="25">Length (nt)</text>
<text x="1297" y="672.5" text-anchor="middle" font-size="25">Length (nt)</text>
<text x="1607.5" y="672.5" text-anchor="middle" font-size="25">Length (nt)</text>
<text transform="translate(102.5,197.5) rotate(-90)" text-anchor="middle" font-size="24.6">Counts normalized</text><text transform="translate(137.4,195.5) rotate(-90)" text-anchor="middle" font-size="24.6">to spike-in (×10<tspan font-size="14" dy="-7.5">6</tspan><tspan dy="7.5">)</tspan></text>
<text transform="translate(102.5,485) rotate(-90)" text-anchor="middle" font-size="24.6">Counts normalized</text><text transform="translate(137.4,483) rotate(-90)" text-anchor="middle" font-size="24.6">to spike-in (×10<tspan font-size="14" dy="-7.5">6</tspan><tspan dy="7.5">)</tspan></text>
<text transform="translate(46.4,187.7) rotate(-90)" text-anchor="middle" font-size="23.5">WT</text>
<text transform="translate(47.1,463.4) rotate(-90)" text-anchor="middle" font-size="23.5"><tspan font-style="italic">Piwil3</tspan><tspan font-size="14" dy="-7.5">-/-</tspan></text>
<line x1="63.6" y1="68" x2="63.6" y2="298.7" stroke="#000" stroke-width="2"/>
<line x1="63.1" y1="347" x2="63.1" y2="588.8" stroke="#000" stroke-width="2"/>
<rect x="1788" y="345.3" width="27" height="27" fill="#d9d9d9" stroke="#6a6260" stroke-width="2"/>
<text x="1824.4" y="365.9" font-size="24.6">Others</text>
<rect x="1788" y="390.1" width="27" height="27" fill="#ecc6a8" stroke="#6a6260" stroke-width="2"/>
<text x="1824.4" y="410.7" font-size="24.6">snoRNA/snRNA</text>
<rect x="1788" y="435" width="27" height="27" fill="#efe93a" stroke="#6a6260" stroke-width="2"/>
<text x="1824.4" y="455.6" font-size="24.6">rRNA</text>
<rect x="1788" y="480.2" width="27" height="27" fill="#aabed9" stroke="#6a6260" stroke-width="2"/>
<text x="1824.4" y="500.8" font-size="24.6">tRNA</text>
<rect x="1788" y="525" width="27" height="27" fill="#ee3a33" stroke="#6a6260" stroke-width="2"/>
<text x="1824.4" y="545.6" font-size="24.6">miRNA</text>
<rect x="1788" y="570.8" width="27" height="27" fill="#4066b1" stroke="#6a6260" stroke-width="2"/>
<text x="1824.4" y="591.4" font-size="24.6">piRNA</text>
<path d="M206.4 785V1019.1H584.4" fill="none" stroke="#111" stroke-width="2"/>
<line x1="200.4" y1="1006.1" x2="206.4" y2="1006.1" stroke="#111" stroke-width="1.6"/>
<text x="182.5" y="1014.5" text-anchor="end" font-size="25">0</text>
<line x1="200.4" y1="941.21" x2="206.4" y2="941.21" stroke="#111" stroke-width="1.6"/>
<text x="182.5" y="949.61" text-anchor="end" font-size="25">3</text>
<line x1="200.4" y1="876.32" x2="206.4" y2="876.32" stroke="#111" stroke-width="1.6"/>
<text x="182.5" y="884.72" text-anchor="end" font-size="25">6</text>
<line x1="200.4" y1="811.43" x2="206.4" y2="811.43" stroke="#111" stroke-width="1.6"/>
<text x="182.5" y="819.83" text-anchor="end" font-size="25">9</text>
<line x1="207.9" y1="1019" x2="207.9" y2="1025" stroke="#111" stroke-width="1.6"/>
<line x1="267.9" y1="1019" x2="267.9" y2="1025" stroke="#111" stroke-width="1.6"/>
<line x1="327.9" y1="1019" x2="327.9" y2="1025" stroke="#111" stroke-width="1.6"/>
<line x1="387.9" y1="1019" x2="387.9" y2="1025" stroke="#111" stroke-width="1.6"/>
<line x1="447.9" y1="1019" x2="447.9" y2="1025" stroke="#111" stroke-width="1.6"/>
<line x1="507.9" y1="1019" x2="507.9" y2="1025" stroke="#111" stroke-width="1.6"/>
<line x1="567.9" y1="1019" x2="567.9" y2="1025" stroke="#111" stroke-width="1.6"/>
<text x="267.9" y="1050.5" text-anchor="middle" font-size="25">20</text>
<text x="387.9" y="1050.5" text-anchor="middle" font-size="25">28</text>
<text x="507.9" y="1050.5" text-anchor="middle" font-size="25">36</text>
<text x="392.9" y="1076" text-anchor="middle" font-size="25">Length (nt)</text>
<path d="M222.9 984.5L236.68 947.28Q237.9 944 241.4 944.14L249.4 944.46Q252.9 944.6 255.14 947.29L265.66 959.91Q267.9 962.6 269.5 959.49L281.3 936.61Q282.9 933.5 283.81 930.12L296.99 881.38Q297.9 878 300.63 880.19L310.17 887.82Q312.9 890 313.84 893.37L326.96 940.63Q327.9 944 329.2 947.25L341.6 978.25Q342.9 981.5 346.03 983.07L354.77 987.44Q357.9 989 361.25 990.01L369.55 992.5Q372.9 993.5 376.33 994.19L384.47 995.82Q387.9 996.5 391.4 996.64L399.4 996.96Q402.9 997.1 406.36 997.66L414.44 998.95Q417.9 999.5 421.21 1000.63L429.59 1003.48Q432.9 1004.6 436.38 1004.95L444.42 1005.75Q447.9 1006.1 451.4 1006.1L459.4 1006.1Q462.9 1006.1 466.4 1006.1L474.4 1006.1Q477.9 1006.1 481.4 1006.1L489.4 1006.1Q492.9 1006.1 496.4 1006.1L504.4 1006.1Q507.9 1006.1 511.4 1006.1L519.4 1006.1Q522.9 1006.1 526.4 1006.1L534.4 1006.1Q537.9 1006.1 541.4 1006.1L549.4 1006.1Q552.9 1006.1 556.4 1006.1L567.9 1006.1" fill="none" stroke="#000" stroke-width="4" stroke-linejoin="round"/>
<path d="M222.9 1004.9L234.41 1004.21Q237.9 1004 241.38 1003.65L249.42 1002.85Q252.9 1002.5 256.37 1002.02L264.43 1000.89Q267.9 1000.4 271.15 999.1L279.65 995.7Q282.9 994.4 285.69 992.29L295.11 985.12Q297.9 983 300.58 980.75L310.22 972.65Q312.9 970.4 316.21 971.53L324.59 974.38Q327.9 975.5 331.19 976.69L339.61 979.72Q342.9 980.9 346.19 979.72L354.61 976.69Q357.9 975.5 360.9 973.7L369.9 968.3Q372.9 966.5 374.84 963.59L385.96 946.91Q387.9 944 389.75 941.03L401.05 922.97Q402.9 920 404.35 923.19L416.45 949.82Q417.9 953 419.04 956.31L431.76 993.19Q432.9 996.5 435.98 998.17L444.82 1002.94Q447.9 1004.6 451.38 1004.95L459.42 1005.75Q462.9 1006.1 466.4 1006.1L474.4 1006.1Q477.9 1006.1 481.4 1006.1L489.4 1006.1Q492.9 1006.1 496.4 1006.1L504.4 1006.1Q507.9 1006.1 511.4 1006.1L519.4 1006.1Q522.9 1006.1 526.4 1006.1L534.4 1006.1Q537.9 1006.1 541.4 1006.1L549.4 1006.1Q552.9 1006.1 556.4 1006.1L567.9 1006.1" fill="none" stroke="#ff0000" stroke-width="4" stroke-linejoin="round"/>
<path d="M646.4 785V1019.1H1024.4" fill="none" stroke="#111" stroke-width="2"/>
<line x1="640.4" y1="1006.1" x2="646.4" y2="1006.1" stroke="#111" stroke-width="1.6"/>
<line x1="640.4" y1="941.21" x2="646.4" y2="941.21" stroke="#111" stroke-width="1.6"/>
<line x1="640.4" y1="876.32" x2="646.4" y2="876.32" stroke="#111" stroke-width="1.6"/>
<line x1="640.4" y1="811.43" x2="646.4" y2="811.43" stroke="#111" stroke-width="1.6"/>
<line x1="648.5" y1="1019" x2="648.5" y2="1025" stroke="#111" stroke-width="1.6"/>
<line x1="708.5" y1="1019" x2="708.5" y2="1025" stroke="#111" stroke-width="1.6"/>
<line x1="768.5" y1="1019" x2="768.5" y2="1025" stroke="#111" stroke-width="1.6"/>
<line x1="828.5" y1="1019" x2="828.5" y2="1025" stroke="#111" stroke-width="1.6"/>
<line x1="888.5" y1="1019" x2="888.5" y2="1025" stroke="#111" stroke-width="1.6"/>
<line x1="948.5" y1="1019" x2="948.5" y2="1025" stroke="#111" stroke-width="1.6"/>
<line x1="1008.5" y1="1019" x2="1008.5" y2="1025" stroke="#111" stroke-width="1.6"/>
<text x="712.1" y="1050.5" text-anchor="middle" font-size="25">20</text>
<text x="832.1" y="1050.5" text-anchor="middle" font-size="25">28</text>
<text x="952.1" y="1050.5" text-anchor="middle" font-size="25">36</text>
<text x="837.1" y="1076" text-anchor="middle" font-size="25">Length (nt)</text>
<path d="M663.5 983L677.61 929.39Q678.5 926 681.63 924.44L690.37 920.07Q693.5 918.5 694.64 921.81L707.36 958.69Q708.5 962 710.74 964.69L721.26 977.31Q723.5 980 725.13 976.91L736.87 954.6Q738.5 951.5 740.2 948.44L751.8 927.56Q753.5 924.5 755.63 927.28L766.37 941.23Q768.5 944 770.35 946.97L781.65 965.03Q783.5 968 786.79 969.19L795.21 972.22Q798.5 973.4 801.96 972.85L810.04 971.56Q813.5 971 815.97 968.53L826.03 958.48Q828.5 956 830.7 953.28L841.3 940.13Q843.5 937.4 845.81 940.03L856.19 951.87Q858.5 954.5 859.68 957.8L872.32 993.21Q873.5 996.5 876.58 998.17L885.42 1002.94Q888.5 1004.6 891.98 1004.95L900.02 1005.75Q903.5 1006.1 907 1006.1L915 1006.1Q918.5 1006.1 922 1006.1L930 1006.1Q933.5 1006.1 937 1006.1L945 1006.1Q948.5 1006.1 952 1006.1L960 1006.1Q963.5 1006.1 967 1006.1L975 1006.1Q978.5 1006.1 982 1006.1L990 1006.1Q993.5 1006.1 997 1006.1L1008.5 1006.1" fill="none" stroke="#000" stroke-width="4" stroke-linejoin="round"/>
<path d="M663.5 1004.9L675.01 1004.21Q678.5 1004 681.98 1003.65L690.02 1002.85Q693.5 1002.5 696.97 1002.02L705.03 1000.89Q708.5 1000.4 711.75 999.1L720.25 995.7Q723.5 994.4 726.29 992.29L735.71 985.12Q738.5 983 741.18 980.75L750.82 972.65Q753.5 970.4 756.81 971.53L765.19 974.38Q768.5 975.5 771.79 976.69L780.21 979.72Q783.5 980.9 786.79 979.72L795.21 976.69Q798.5 975.5 801.5 973.7L810.5 968.3Q813.5 966.5 815.44 963.59L826.56 946.91Q828.5 944 830.35 941.03L841.65 922.97Q843.5 920 844.95 923.19L857.05 949.82Q858.5 953 859.64 956.31L872.36 993.19Q873.5 996.5 876.58 998.17L885.42 1002.94Q888.5 1004.6 891.98 1004.95L900.02 1005.75Q903.5 1006.1 907 1006.1L915 1006.1Q918.5 1006.1 922 1006.1L930 1006.1Q933.5 1006.1 937 1006.1L945 1006.1Q948.5 1006.1 952 1006.1L960 1006.1Q963.5 1006.1 967 1006.1L975 1006.1Q978.5 1006.1 982 1006.1L990 1006.1Q993.5 1006.1 997 1006.1L1008.5 1006.1" fill="none" stroke="#ff0000" stroke-width="4" stroke-linejoin="round"/>
<path d="M1086.8 785.2V1019.1H1464.7" fill="none" stroke="#111" stroke-width="2"/>
<line x1="1080.8" y1="1005.9" x2="1086.8" y2="1005.9" stroke="#111" stroke-width="1.6"/>
<line x1="1080.8" y1="941.01" x2="1086.8" y2="941.01" stroke="#111" stroke-width="1.6"/>
<line x1="1080.8" y1="876.12" x2="1086.8" y2="876.12" stroke="#111" stroke-width="1.6"/>
<line x1="1080.8" y1="811.23" x2="1086.8" y2="811.23" stroke="#111" stroke-width="1.6"/>
<line x1="1089" y1="1019" x2="1089" y2="1025" stroke="#111" stroke-width="1.6"/>
<line x1="1149" y1="1019" x2="1149" y2="1025" stroke="#111" stroke-width="1.6"/>
<line x1="1209" y1="1019" x2="1209" y2="1025" stroke="#111" stroke-width="1.6"/>
<line x1="1269" y1="1019" x2="1269" y2="1025" stroke="#111" stroke-width="1.6"/>
<line x1="1329" y1="1019" x2="1329" y2="1025" stroke="#111" stroke-width="1.6"/>
<line x1="1389" y1="1019" x2="1389" y2="1025" stroke="#111" stroke-width="1.6"/>
<line x1="1449" y1="1019" x2="1449" y2="1025" stroke="#111" stroke-width="1.6"/>
<text x="1149" y="1050.5" text-anchor="middle" font-size="25">20</text>
<text x="1269" y="1050.5" text-anchor="middle" font-size="25">28</text>
<text x="1389" y="1050.5" text-anchor="middle" font-size="25">36</text>
<text x="1274" y="1076" text-anchor="middle" font-size="25">Length (nt)</text>
<path d="M1104 991.09L1116.53 978.47Q1119 975.99 1122.42 976.74L1130.58 978.54Q1134 979.29 1137.18 980.74L1145.82 984.69Q1149 986.15 1152.49 985.96L1160.51 985.52Q1164 985.33 1167.49 985.07L1175.51 984.48Q1179 984.23 1181.42 986.76L1191.58 997.35Q1194 999.88 1197.44 1000.51L1205.56 1001.99Q1209 1002.62 1212.49 1002.82L1220.51 1003.26Q1224 1003.45 1227.49 1003.26L1235.51 1002.82Q1239 1002.62 1242.49 1002.82L1250.51 1003.26Q1254 1003.45 1257.49 1003.77L1265.51 1004.5Q1269 1004.82 1272.5 1004.95L1280.5 1005.24Q1284 1005.37 1287.5 1005.5L1295.5 1005.79Q1299 1005.92 1302.5 1005.92L1310.5 1005.92Q1314 1005.92 1317.5 1005.92L1325.5 1005.92Q1329 1005.92 1332.5 1005.92L1340.5 1005.92Q1344 1005.92 1347.5 1005.92L1355.5 1005.92Q1359 1005.92 1362.5 1005.92L1370.5 1005.92Q1374 1005.92 1377.5 1005.92L1385.5 1005.92Q1389 1005.92 1392.5 1005.92L1400.5 1005.92Q1404 1005.92 1407.5 1005.92L1415.5 1005.92Q1419 1005.92 1422.5 1005.92L1430.5 1005.92Q1434 1005.92 1437.5 1005.92L1449 1005.92" fill="none" stroke="#000" stroke-width="4" stroke-linejoin="round"/>
<path d="M1104 992.47L1116 985.21Q1119 983.4 1121.7 981.18L1131.3 973.27Q1134 971.05 1136.15 968.29L1146.85 954.59Q1149 951.83 1150.13 948.52L1162.87 911.21Q1164 907.9 1166.9 905.93L1176.1 899.7Q1179 897.74 1179.84 901.14L1193.16 955.29Q1194 958.69 1195.5 961.85L1207.5 987.11Q1209 990.27 1211.95 992.16L1221.05 997.99Q1224 999.88 1227.5 1000.01L1235.5 1000.3Q1239 1000.43 1242.46 1000.94L1250.54 1002.12Q1254 1002.62 1257.47 1003.07L1265.53 1004.1Q1269 1004.55 1272.49 1004.74L1280.51 1005.18Q1284 1005.37 1287.5 1005.5L1295.5 1005.79Q1299 1005.92 1302.5 1005.92L1310.5 1005.92Q1314 1005.92 1317.5 1005.92L1325.5 1005.92Q1329 1005.92 1332.5 1005.92L1340.5 1005.92Q1344 1005.92 1347.5 1005.92L1355.5 1005.92Q1359 1005.92 1362.5 1005.92L1370.5 1005.92Q1374 1005.92 1377.5 1005.92L1385.5 1005.92Q1389 1005.92 1392.5 1005.92L1400.5 1005.92Q1404 1005.92 1407.5 1005.92L1415.5 1005.92Q1419 1005.92 1422.5 1005.92L1430.5 1005.92Q1434 1005.92 1437.5 1005.92L1449 1005.92" fill="none" stroke="#ff0000" stroke-width="4" stroke-linejoin="round"/>
<path d="M1528 785.2V1019.1H1905.6" fill="none" stroke="#111" stroke-width="2"/>
<line x1="1522" y1="1005.9" x2="1528" y2="1005.9" stroke="#111" stroke-width="1.6"/>
<line x1="1522" y1="941.01" x2="1528" y2="941.01" stroke="#111" stroke-width="1.6"/>
<line x1="1522" y1="876.12" x2="1528" y2="876.12" stroke="#111" stroke-width="1.6"/>
<line x1="1522" y1="811.23" x2="1528" y2="811.23" stroke="#111" stroke-width="1.6"/>
<line x1="1529.4" y1="1019" x2="1529.4" y2="1025" stroke="#111" stroke-width="1.6"/>
<line x1="1589.4" y1="1019" x2="1589.4" y2="1025" stroke="#111" stroke-width="1.6"/>
<line x1="1649.4" y1="1019" x2="1649.4" y2="1025" stroke="#111" stroke-width="1.6"/>
<line x1="1709.4" y1="1019" x2="1709.4" y2="1025" stroke="#111" stroke-width="1.6"/>
<line x1="1769.4" y1="1019" x2="1769.4" y2="1025" stroke="#111" stroke-width="1.6"/>
<line x1="1829.4" y1="1019" x2="1829.4" y2="1025" stroke="#111" stroke-width="1.6"/>
<line x1="1889.4" y1="1019" x2="1889.4" y2="1025" stroke="#111" stroke-width="1.6"/>
<text x="1586.4" y="1050.5" text-anchor="middle" font-size="25">20</text>
<text x="1706.4" y="1050.5" text-anchor="middle" font-size="25">28</text>
<text x="1826.4" y="1050.5" text-anchor="middle" font-size="25">36</text>
<text x="1711.4" y="1076" text-anchor="middle" font-size="25">Length (nt)</text>
<path d="M1544.4 984.78L1558.19 947.42Q1559.4 944.14 1562.89 944.33L1570.91 944.77Q1574.4 944.96 1576.65 947.64L1587.15 960.13Q1589.4 962.81 1590.96 959.68L1602.84 935.74Q1604.4 932.61 1605.32 929.23L1618.48 881.07Q1619.4 877.69 1622.17 879.83L1631.63 887.09Q1634.4 889.23 1635.33 892.6L1648.47 940.22Q1649.4 943.59 1650.77 946.81L1663.03 975.52Q1664.4 978.74 1667.3 980.7L1676.5 986.93Q1679.4 988.9 1682.74 989.94L1691.06 992.52Q1694.4 993.56 1697.84 994.19L1705.96 995.68Q1709.4 996.31 1712.89 996.5L1720.91 996.94Q1724.4 997.13 1727.87 997.58L1735.93 998.61Q1739.4 999.06 1742.72 1000.15L1751.08 1002.9Q1754.4 1004 1757.87 1004.44L1765.93 1005.47Q1769.4 1005.92 1772.9 1005.92L1780.9 1005.92Q1784.4 1005.92 1787.9 1005.92L1795.9 1005.92Q1799.4 1005.92 1802.9 1005.92L1810.9 1005.92Q1814.4 1005.92 1817.9 1005.92L1825.9 1005.92Q1829.4 1005.92 1832.9 1005.92L1840.9 1005.92Q1844.4 1005.92 1847.9 1005.92L1855.9 1005.92Q1859.4 1005.92 1862.9 1005.92L1870.9 1005.92Q1874.4 1005.92 1877.9 1005.92L1889.4 1005.92" fill="none" stroke="#000" stroke-width="4" stroke-linejoin="round"/>
<path d="M1544.4 992.19L1556.43 984.7Q1559.4 982.86 1562.22 980.79L1571.58 973.94Q1574.4 971.87 1576.41 969.01L1587.39 953.32Q1589.4 950.46 1590.58 947.16L1603.22 911.74Q1604.4 908.45 1607.3 906.48L1616.5 900.25Q1619.4 898.29 1620.23 901.69L1633.57 956.66Q1634.4 960.07 1635.93 963.21L1647.87 987.67Q1649.4 990.82 1652.4 992.63L1661.4 998.07Q1664.4 999.88 1667.9 1000.01L1675.9 1000.3Q1679.4 1000.43 1682.86 1000.94L1690.94 1002.12Q1694.4 1002.62 1697.87 1003.07L1705.93 1004.1Q1709.4 1004.55 1712.89 1004.74L1720.91 1005.18Q1724.4 1005.37 1727.9 1005.5L1735.9 1005.79Q1739.4 1005.92 1742.9 1005.92L1750.9 1005.92Q1754.4 1005.92 1757.9 1005.92L1765.9 1005.92Q1769.4 1005.92 1772.9 1005.92L1780.9 1005.92Q1784.4 1005.92 1787.9 1005.92L1795.9 1005.92Q1799.4 1005.92 1802.9 1005.92L1810.9 1005.92Q1814.4 1005.92 1817.9 1005.92L1825.9 1005.92Q1829.4 1005.92 1832.9 1005.92L1840.9 1005.92Q1844.4 1005.92 1847.9 1005.92L1855.9 1005.92Q1859.4 1005.92 1862.9 1005.92L1870.9 1005.92Q1874.4 1005.92 1877.9 1005.92L1889.4 1005.92" fill="none" stroke="#e3000f" stroke-width="4" stroke-linejoin="round"/>
<text x="394.8" y="785" text-anchor="middle" font-size="24.5">WT 34 h.p.e.a</text>
<text x="835.5" y="781.5" text-anchor="middle" font-size="24.5">WT 11 h.p.e.a</text>
<text x="1278.9" y="789" text-anchor="middle" font-size="24.5">WT 54 h.p.e.a</text>
<text x="1719.6" y="785.3" text-anchor="middle" font-size="24.5">WT 34 h.p.e.a</text>
<text x="504.5" y="734" font-size="24.5"><tspan font-style="italic">Piwil3</tspan><tspan font-size="14" dy="-7.5">-/-</tspan><tspan dy="7.5"> 34 h.p.e.a vs</tspan></text>
<text x="1388.3" y="738.2" font-size="24.5"><tspan font-style="italic">Piwil3</tspan><tspan font-size="14" dy="-7.5">-/-</tspan><tspan dy="7.5"> 54 h.p.e.a vs</tspan></text>
<line x1="203.4" y1="747.5" x2="1024.4" y2="747.5" stroke="#222" stroke-width="1.8"/>
<line x1="1086.8" y1="751.9" x2="1908.9" y2="751.9" stroke="#222" stroke-width="1.8"/>
<text transform="translate(107.5,880) rotate(-90)" text-anchor="middle" font-size="24.6">Counts normalized</text><text transform="translate(139.8,878) rotate(-90)" text-anchor="middle" font-size="24.6">to spike-in (×10<tspan font-size="14" dy="-7.5">6</tspan><tspan dy="7.5">)</tspan></text>
<line x1="1787" y1="871.7" x2="1843.8" y2="871.7" stroke="#000" stroke-width="4"/>
<text x="1861.7" y="880.4" font-size="25">WT</text>
<line x1="1789" y1="921.6" x2="1844.6" y2="921.6" stroke="#e3000f" stroke-width="4"/>
<text x="1861.7" y="931" font-size="25"><tspan font-style="italic">Piwil3</tspan><tspan font-size="14" dy="-7.5">-/-</tspan></text>
<defs>
<filter id="grain" x="0" y="0" width="100%" height="100%" filterUnits="objectBoundingBox" color-interpolation-filters="sRGB">
 <feTurbulence type="fractalNoise" baseFrequency="0.42 0.3" numOctaves="3" seed="7" result="n"/>
 <feColorMatrix in="n" type="matrix" values="1.3 0 0 0 -0.15  1.3 0 0 0 -0.15  1.3 0 0 0 -0.15  0 0 0 0 0.30"/>
</filter>
<filter id="bgnoise" x="0" y="0" width="100%" height="100%" filterUnits="objectBoundingBox" color-interpolation-filters="sRGB">
 <feTurbulence type="fractalNoise" baseFrequency="0.05" numOctaves="3" seed="11" result="n"/>
 <feColorMatrix in="n" type="matrix" values="1 0 0 0 0  1 0 0 0 0  1 0 0 0 0  0 0 0 0 0.05"/>
</filter>
<clipPath id="clipI1"><rect x="74.8" y="1194" width="335.2" height="336"/></clipPath>
<clipPath id="clipI2"><rect x="445.6" y="1194.4" width="332.2" height="332.6"/></clipPath>
<linearGradient id="il1" x1="0" y1="1" x2="1" y2="0">
 <stop offset="0" stop-color="#ffffff" stop-opacity="0.9"/>
 <stop offset="0.22" stop-color="#ffffff" stop-opacity="0.65"/>
 <stop offset="0.42" stop-color="#ffffff" stop-opacity="0.25"/>
 <stop offset="0.58" stop-color="#ffffff" stop-opacity="0.05"/>
 <stop offset="0.68" stop-color="#ffffff" stop-opacity="0"/>
 <stop offset="0.82" stop-color="#000000" stop-opacity="0.10"/>
 <stop offset="1" stop-color="#000000" stop-opacity="0.25"/>
</linearGradient>
<radialGradient id="il1c" gradientUnits="userSpaceOnUse" cx="412" cy="1192" r="60">
 <stop offset="0" stop-color="#444444" stop-opacity="0.6"/>
 <stop offset="0.5" stop-color="#666666" stop-opacity="0.25"/>
 <stop offset="1" stop-color="#888888" stop-opacity="0"/>
</radialGradient>
<linearGradient id="il2" x1="0" y1="1" x2="1" y2="0">
 <stop offset="0" stop-color="#ffffff" stop-opacity="0.75"/>
 <stop offset="0.25" stop-color="#ffffff" stop-opacity="0.4"/>
 <stop offset="0.45" stop-color="#ffffff" stop-opacity="0.12"/>
 <stop offset="0.65" stop-color="#ffffff" stop-opacity="0"/>
 <stop offset="1" stop-color="#000000" stop-opacity="0.12"/>
</linearGradient>
<radialGradient id="il2c" gradientUnits="userSpaceOnUse" cx="790" cy="1190" r="90">
 <stop offset="0" stop-color="#666666" stop-opacity="0.45"/>
 <stop offset="1" stop-color="#888888" stop-opacity="0"/>
</radialGradient>
</defs>
<g clip-path="url(#clipI1)">
<rect x="74.8" y="1194" width="335.2" height="336" fill="#cdcdcd"/>
<rect x="74.8" y="1194" width="335.2" height="336" filter="url(#bgnoise)"/>
<radialGradient id="zg1" gradientUnits="userSpaceOnUse" cx="104" cy="1245.1" r="54"><stop offset="0" stop-color="#cbcbcb" stop-opacity="1"/><stop offset="0.63" stop-color="#cbcbcb" stop-opacity="1"/><stop offset="0.65" stop-color="#c8c8c8" stop-opacity="1"/><stop offset="0.73" stop-color="#c2c2c2" stop-opacity="1"/><stop offset="0.77" stop-color="#d6d6d6" stop-opacity="1"/><stop offset="0.82" stop-color="#dedede" stop-opacity="1"/><stop offset="0.92" stop-color="#dadada" stop-opacity="1"/><stop offset="0.97" stop-color="#b9b9b9" stop-opacity="0.75"/><stop offset="1" stop-color="#c8c8c8" stop-opacity="0"/></radialGradient><circle cx="104" cy="1245.1" r="54" fill="url(#zg1)"/>
<radialGradient id="zg2" gradientUnits="userSpaceOnUse" cx="276.5" cy="1255.7" r="49"><stop offset="0" stop-color="#cbcbcb" stop-opacity="1"/><stop offset="0.69" stop-color="#cbcbcb" stop-opacity="1"/><stop offset="0.7" stop-color="#c8c8c8" stop-opacity="1"/><stop offset="0.8" stop-color="#c2c2c2" stop-opacity="1"/><stop offset="0.84" stop-color="#d6d6d6" stop-opacity="1"/><stop offset="0.9" stop-color="#dedede" stop-opacity="1"/><stop offset="0.91" stop-color="#dadada" stop-opacity="1"/><stop offset="0.96" stop-color="#b9b9b9" stop-opacity="0.75"/><stop offset="1" stop-color="#c8c8c8" stop-opacity="0"/></radialGradient><circle cx="276.5" cy="1255.7" r="49" fill="url(#zg2)"/>
<radialGradient id="zg3" gradientUnits="userSpaceOnUse" cx="412" cy="1258" r="51"><stop offset="0" stop-color="#cbcbcb" stop-opacity="1"/><stop offset="0.65" stop-color="#cbcbcb" stop-opacity="1"/><stop offset="0.67" stop-color="#c8c8c8" stop-opacity="1"/><stop offset="0.75" stop-color="#c2c2c2" stop-opacity="1"/><stop offset="0.79" stop-color="#d6d6d6" stop-opacity="1"/><stop offset="0.85" stop-color="#dedede" stop-opacity="1"/><stop offset="0.91" stop-color="#dadada" stop-opacity="1"/><stop offset="0.96" stop-color="#b9b9b9" stop-opacity="0.75"/><stop offset="1" stop-color="#c8c8c8" stop-opacity="0"/></radialGradient><circle cx="412" cy="1258" r="51" fill="url(#zg3)"/>
<radialGradient id="zg4" gradientUnits="userSpaceOnUse" cx="109.6" cy="1384.4" r="54"><stop offset="0" stop-color="#cbcbcb" stop-opacity="1"/><stop offset="0.64" stop-color="#cbcbcb" stop-opacity="1"/><stop offset="0.66" stop-color="#c8c8c8" stop-opacity="1"/><stop offset="0.74" stop-color="#c2c2c2" stop-opacity="1"/><stop offset="0.78" stop-color="#d6d6d6" stop-opacity="1"/><stop offset="0.83" stop-color="#dedede" stop-opacity="1"/><stop offset="0.92" stop-color="#dadada" stop-opacity="1"/><stop offset="0.97" stop-color="#b9b9b9" stop-opacity="0.75"/><stop offset="1" stop-color="#c8c8c8" stop-opacity="0"/></radialGradient><circle cx="109.6" cy="1384.4" r="54" fill="url(#zg4)"/>
<radialGradient id="zg5" gradientUnits="userSpaceOnUse" cx="355" cy="1365.6" r="51.5"><stop offset="0" stop-color="#cbcbcb" stop-opacity="1"/><stop offset="0.67" stop-color="#cbcbcb" stop-opacity="1"/><stop offset="0.69" stop-color="#c8c8c8" stop-opacity="1"/><stop offset="0.78" stop-color="#c2c2c2" stop-opacity="1"/><stop offset="0.82" stop-color="#d6d6d6" stop-opacity="1"/><stop offset="0.87" stop-color="#dedede" stop-opacity="1"/><stop offset="0.91" stop-color="#dadada" stop-opacity="1"/><stop offset="0.97" stop-color="#b9b9b9" stop-opacity="0.75"/><stop offset="1" stop-color="#c8c8c8" stop-opacity="0"/></radialGradient><circle cx="355" cy="1365.6" r="51.5" fill="url(#zg5)"/>
<radialGradient id="zg6" gradientUnits="userSpaceOnUse" cx="271.8" cy="1453.3" r="51.5"><stop offset="0" stop-color="#cbcbcb" stop-opacity="1"/><stop offset="0.69" stop-color="#cbcbcb" stop-opacity="1"/><stop offset="0.71" stop-color="#c8c8c8" stop-opacity="1"/><stop offset="0.8" stop-color="#c2c2c2" stop-opacity="1"/><stop offset="0.83" stop-color="#d6d6d6" stop-opacity="1"/><stop offset="0.89" stop-color="#dedede" stop-opacity="1"/><stop offset="0.91" stop-color="#dadada" stop-opacity="1"/><stop offset="0.97" stop-color="#b9b9b9" stop-opacity="0.75"/><stop offset="1" stop-color="#c8c8c8" stop-opacity="0"/></radialGradient><circle cx="271.8" cy="1453.3" r="51.5" fill="url(#zg6)"/>
<radialGradient id="zg7" gradientUnits="userSpaceOnUse" cx="403" cy="1468" r="42"><stop offset="0" stop-color="#cbcbcb" stop-opacity="1"/><stop offset="0.62" stop-color="#cbcbcb" stop-opacity="1"/><stop offset="0.64" stop-color="#c8c8c8" stop-opacity="1"/><stop offset="0.75" stop-color="#c2c2c2" stop-opacity="1"/><stop offset="0.8" stop-color="#d6d6d6" stop-opacity="1"/><stop offset="0.87" stop-color="#dedede" stop-opacity="1"/><stop offset="0.89" stop-color="#dadada" stop-opacity="1"/><stop offset="0.96" stop-color="#b9b9b9" stop-opacity="0.75"/><stop offset="1" stop-color="#c8c8c8" stop-opacity="0"/></radialGradient><circle cx="403" cy="1468" r="42" fill="url(#zg7)"/>
<radialGradient id="zg8" gradientUnits="userSpaceOnUse" cx="156.6" cy="1519" r="47"><stop offset="0" stop-color="#cbcbcb" stop-opacity="1"/><stop offset="0.63" stop-color="#cbcbcb" stop-opacity="1"/><stop offset="0.65" stop-color="#c8c8c8" stop-opacity="1"/><stop offset="0.74" stop-color="#c2c2c2" stop-opacity="1"/><stop offset="0.79" stop-color="#d6d6d6" stop-opacity="1"/><stop offset="0.85" stop-color="#dedede" stop-opacity="1"/><stop offset="0.9" stop-color="#dadada" stop-opacity="1"/><stop offset="0.96" stop-color="#b9b9b9" stop-opacity="0.75"/><stop offset="1" stop-color="#c8c8c8" stop-opacity="0"/></radialGradient><circle cx="156.6" cy="1519" r="47" fill="url(#zg8)"/>
<radialGradient id="zg9" gradientUnits="userSpaceOnUse" cx="219" cy="1355" r="52"><stop offset="0" stop-color="#cbcbcb" stop-opacity="1"/><stop offset="0.72" stop-color="#cbcbcb" stop-opacity="1"/><stop offset="0.73" stop-color="#c8c8c8" stop-opacity="1"/><stop offset="0.82" stop-color="#c2c2c2" stop-opacity="1"/><stop offset="0.86" stop-color="#d6d6d6" stop-opacity="1"/><stop offset="0.91" stop-color="#dedede" stop-opacity="1"/><stop offset="0.91" stop-color="#dadada" stop-opacity="1"/><stop offset="0.97" stop-color="#b9b9b9" stop-opacity="0.75"/><stop offset="1" stop-color="#c8c8c8" stop-opacity="0"/></radialGradient><circle cx="219" cy="1355" r="52" fill="url(#zg9)"/>
<defs><g id="texa"><rect x="74.8" y="1194" width="335.2" height="336" filter="url(#grain)"/></g><clipPath id="oca0"><circle cx="104" cy="1245.1" r="31"/></clipPath><clipPath id="oca1"><circle cx="278.2" cy="1255.9" r="31.2"/></clipPath><clipPath id="oca2"><circle cx="403.5" cy="1267" r="32"/></clipPath><clipPath id="oca3"><circle cx="109.6" cy="1384.4" r="32"/></clipPath><clipPath id="oca4"><circle cx="355" cy="1365.6" r="32"/></clipPath><clipPath id="oca5"><circle cx="271.8" cy="1453.3" r="33"/></clipPath><clipPath id="oca6"><circle cx="403" cy="1472" r="25"/></clipPath><clipPath id="oca7"><circle cx="156.6" cy="1519" r="27"/></clipPath><clipPath id="oca8"><ellipse cx="228.8" cy="1339.3" rx="26.3" ry="23.8" transform="rotate(20 228.8 1339.3)"/></clipPath><clipPath id="oca9"><ellipse cx="207.2" cy="1375" rx="26.3" ry="24.2" transform="rotate(25 207.2 1375)"/></clipPath></defs>
<circle cx="104" cy="1245.1" r="31" fill="none" stroke="#f0f0f0" stroke-width="6.5" opacity="0.95"/>
<circle cx="104" cy="1245.1" r="31" fill="#c8c8c8"/>
<g clip-path="url(#oca0)"><use href="#texa"/></g>
<circle cx="104" cy="1245.1" r="31" fill="none" stroke="#2a2a2a" stroke-width="1.1"/>
<circle cx="278.2" cy="1255.9" r="31.2" fill="none" stroke="#f0f0f0" stroke-width="6.5" opacity="0.95"/>
<circle cx="278.2" cy="1255.9" r="31.2" fill="#d0d0d0"/>
<g clip-path="url(#oca1)"><use href="#texa"/></g>
<circle cx="278.2" cy="1255.9" r="31.2" fill="none" stroke="#2a2a2a" stroke-width="1.1"/>
<circle cx="403.5" cy="1267" r="32" fill="none" stroke="#f0f0f0" stroke-width="6.5" opacity="0.95"/>
<circle cx="403.5" cy="1267" r="32" fill="#a4a4a4"/>
<g clip-path="url(#oca2)"><use href="#texa"/></g>
<circle cx="403.5" cy="1267" r="32" fill="none" stroke="#2a2a2a" stroke-width="1.1"/>
<circle cx="109.6" cy="1384.4" r="32" fill="none" stroke="#f0f0f0" stroke-width="6.5" opacity="0.95"/>
<circle cx="109.6" cy="1384.4" r="32" fill="#d7d7d7"/>
<g clip-path="url(#oca3)"><use href="#texa"/></g>
<circle cx="109.6" cy="1384.4" r="32" fill="none" stroke="#2a2a2a" stroke-width="1.1"/>
<circle cx="355" cy="1365.6" r="32" fill="none" stroke="#f0f0f0" stroke-width="6.5" opacity="0.95"/>
<circle cx="355" cy="1365.6" r="32" fill="#c1c1c1"/>
<g clip-path="url(#oca4)"><use href="#texa"/></g>
<circle cx="355" cy="1365.6" r="32" fill="none" stroke="#2a2a2a" stroke-width="1.1"/>
<circle cx="271.8" cy="1453.3" r="33" fill="none" stroke="#f0f0f0" stroke-width="6.5" opacity="0.95"/>
<circle cx="271.8" cy="1453.3" r="33" fill="#d7d7d7"/>
<g clip-path="url(#oca5)"><use href="#texa"/></g>
<circle cx="271.8" cy="1453.3" r="33" fill="none" stroke="#2a2a2a" stroke-width="1.1"/>
<circle cx="403" cy="1472" r="25" fill="none" stroke="#f0f0f0" stroke-width="5" opacity="0.95"/>
<circle cx="403" cy="1472" r="25" fill="#c8c8c8"/>
<g clip-path="url(#oca6)"><use href="#texa"/></g>
<circle cx="403" cy="1472" r="25" fill="none" stroke="#2a2a2a" stroke-width="1.1"/>
<circle cx="156.6" cy="1519" r="27" fill="none" stroke="#f0f0f0" stroke-width="6" opacity="0.95"/>
<circle cx="156.6" cy="1519" r="27" fill="#d0d0d0"/>
<g clip-path="url(#oca7)"><use href="#texa"/></g>
<circle cx="156.6" cy="1519" r="27" fill="none" stroke="#2a2a2a" stroke-width="1.1"/>
<ellipse cx="228.8" cy="1339.3" rx="26.3" ry="23.8" transform="rotate(20 228.8 1339.3)" fill="none" stroke="#f0f0f0" stroke-width="5" opacity="0.95"/>
<ellipse cx="228.8" cy="1339.3" rx="26.3" ry="23.8" transform="rotate(20 228.8 1339.3)" fill="#d7d7d7"/>
<g clip-path="url(#oca8)"><use href="#texa"/></g>
<ellipse cx="228.8" cy="1339.3" rx="26.3" ry="23.8" transform="rotate(20 228.8 1339.3)" fill="none" stroke="#2a2a2a" stroke-width="1.1"/>
<ellipse cx="207.2" cy="1375" rx="26.3" ry="24.2" transform="rotate(25 207.2 1375)" fill="none" stroke="#f0f0f0" stroke-width="5" opacity="0.95"/>
<ellipse cx="207.2" cy="1375" rx="26.3" ry="24.2" transform="rotate(25 207.2 1375)" fill="#e2e2e2"/>
<g clip-path="url(#oca9)"><use href="#texa"/></g>
<ellipse cx="207.2" cy="1375" rx="26.3" ry="24.2" transform="rotate(25 207.2 1375)" fill="none" stroke="#2a2a2a" stroke-width="1.1"/>
<circle cx="140.7" cy="1245.5" r="5" fill="#e6e6e6" stroke="#b5b5b5" stroke-width="0.8"/>
<circle cx="136.7" cy="1360" r="6.2" fill="#ececec" stroke="#9a9a9a" stroke-width="0.8"/>
<circle cx="406" cy="1443" r="7" fill="#b5b5b5" stroke="#707070" stroke-width="0.8"/>
<ellipse cx="245.5" cy="1258" rx="2" ry="4" fill="#333"/>
<g fill="#eeeeee" opacity="0.85"><circle cx="277" cy="1256" r="1.5"/><circle cx="280.5" cy="1255" r="1.4"/><circle cx="279" cy="1259.5" r="1.5"/><circle cx="275.5" cy="1260" r="1.3"/><circle cx="282" cy="1259" r="1.3"/></g>
<g fill="#eeeeee" opacity="0.85"><circle cx="352" cy="1360" r="1.6"/><circle cx="355" cy="1362" r="1.4"/><circle cx="357.5" cy="1371.5" r="1.5"/><circle cx="356" cy="1374" r="1.3"/></g>
<ellipse cx="350.5" cy="1401" rx="6" ry="2.6" fill="#f4f4f4" opacity="0.9"/>
<circle cx="110" cy="1387" r="6" fill="none" stroke="#e8e8e8" stroke-width="1.6" opacity="0.8"/>
<ellipse cx="384" cy="1282" rx="7" ry="3" transform="rotate(20 384 1282)" fill="#e0e0e0" opacity="0.7"/>
<rect x="74.8" y="1194" width="335.2" height="336" fill="url(#il1)"/>
<rect x="74.8" y="1194" width="335.2" height="336" fill="url(#il1c)"/>
<rect x="314.5" y="1512.8" width="89.7" height="3.4" fill="#111"/>
<text x="359.5" y="1522.5" text-anchor="middle" font-size="5.5" fill="#666">100 μm</text>
</g>
<g clip-path="url(#clipI2)">
<rect x="445.6" y="1194.4" width="332.2" height="332.6" fill="#c9c9c9"/>
<rect x="445.6" y="1194.4" width="332.2" height="332.6" filter="url(#bgnoise)"/>
<radialGradient id="zg10" gradientUnits="userSpaceOnUse" cx="550.8" cy="1259.2" r="52"><stop offset="0" stop-color="#cbcbcb" stop-opacity="1"/><stop offset="0.66" stop-color="#cbcbcb" stop-opacity="1"/><stop offset="0.67" stop-color="#c8c8c8" stop-opacity="1"/><stop offset="0.76" stop-color="#c2c2c2" stop-opacity="1"/><stop offset="0.8" stop-color="#d6d6d6" stop-opacity="1"/><stop offset="0.86" stop-color="#dedede" stop-opacity="1"/><stop offset="0.91" stop-color="#dadada" stop-opacity="1"/><stop offset="0.97" stop-color="#b9b9b9" stop-opacity="0.75"/><stop offset="1" stop-color="#c8c8c8" stop-opacity="0"/></radialGradient><circle cx="550.8" cy="1259.2" r="52" fill="url(#zg10)"/>
<radialGradient id="zg11" gradientUnits="userSpaceOnUse" cx="728.2" cy="1248.2" r="48"><stop offset="0" stop-color="#cbcbcb" stop-opacity="1"/><stop offset="0.72" stop-color="#cbcbcb" stop-opacity="1"/><stop offset="0.74" stop-color="#c8c8c8" stop-opacity="1"/><stop offset="0.83" stop-color="#c2c2c2" stop-opacity="1"/><stop offset="0.88" stop-color="#d6d6d6" stop-opacity="1"/><stop offset="0.94" stop-color="#dedede" stop-opacity="1"/><stop offset="0.91" stop-color="#dadada" stop-opacity="1"/><stop offset="0.96" stop-color="#b9b9b9" stop-opacity="0.75"/><stop offset="1" stop-color="#c8c8c8" stop-opacity="0"/></radialGradient><circle cx="728.2" cy="1248.2" r="48" fill="url(#zg11)"/>
<radialGradient id="zg12" gradientUnits="userSpaceOnUse" cx="496.2" cy="1351.8" r="52"><stop offset="0" stop-color="#cbcbcb" stop-opacity="1"/><stop offset="0.67" stop-color="#cbcbcb" stop-opacity="1"/><stop offset="0.68" stop-color="#c8c8c8" stop-opacity="1"/><stop offset="0.77" stop-color="#c2c2c2" stop-opacity="1"/><stop offset="0.81" stop-color="#d6d6d6" stop-opacity="1"/><stop offset="0.87" stop-color="#dedede" stop-opacity="1"/><stop offset="0.91" stop-color="#dadada" stop-opacity="1"/><stop offset="0.97" stop-color="#b9b9b9" stop-opacity="0.75"/><stop offset="1" stop-color="#c8c8c8" stop-opacity="0"/></radialGradient><circle cx="496.2" cy="1351.8" r="52" fill="url(#zg12)"/>
<radialGradient id="zg13" gradientUnits="userSpaceOnUse" cx="677" cy="1346" r="52"><stop offset="0" stop-color="#cbcbcb" stop-opacity="1"/><stop offset="0.68" stop-color="#cbcbcb" stop-opacity="1"/><stop offset="0.69" stop-color="#c8c8c8" stop-opacity="1"/><stop offset="0.78" stop-color="#c2c2c2" stop-opacity="1"/><stop offset="0.82" stop-color="#d6d6d6" stop-opacity="1"/><stop offset="0.88" stop-color="#dedede" stop-opacity="1"/><stop offset="0.91" stop-color="#dadada" stop-opacity="1"/><stop offset="0.97" stop-color="#b9b9b9" stop-opacity="0.75"/><stop offset="1" stop-color="#c8c8c8" stop-opacity="0"/></radialGradient><circle cx="677" cy="1346" r="52" fill="url(#zg13)"/>
<radialGradient id="zg14" gradientUnits="userSpaceOnUse" cx="526.7" cy="1460" r="53"><stop offset="0" stop-color="#cbcbcb" stop-opacity="1"/><stop offset="0.69" stop-color="#cbcbcb" stop-opacity="1"/><stop offset="0.71" stop-color="#c8c8c8" stop-opacity="1"/><stop offset="0.79" stop-color="#c2c2c2" stop-opacity="1"/><stop offset="0.83" stop-color="#d6d6d6" stop-opacity="1"/><stop offset="0.89" stop-color="#dedede" stop-opacity="1"/><stop offset="0.92" stop-color="#dadada" stop-opacity="1"/><stop offset="0.97" stop-color="#b9b9b9" stop-opacity="0.75"/><stop offset="1" stop-color="#c8c8c8" stop-opacity="0"/></radialGradient><circle cx="526.7" cy="1460" r="53" fill="url(#zg14)"/>
<radialGradient id="zg15" gradientUnits="userSpaceOnUse" cx="696" cy="1460" r="54"><stop offset="0" stop-color="#cbcbcb" stop-opacity="1"/><stop offset="0.66" stop-color="#cbcbcb" stop-opacity="1"/><stop offset="0.68" stop-color="#c8c8c8" stop-opacity="1"/><stop offset="0.76" stop-color="#c2c2c2" stop-opacity="1"/><stop offset="0.8" stop-color="#d6d6d6" stop-opacity="1"/><stop offset="0.85" stop-color="#dedede" stop-opacity="1"/><stop offset="0.92" stop-color="#dadada" stop-opacity="1"/><stop offset="0.97" stop-color="#b9b9b9" stop-opacity="0.75"/><stop offset="1" stop-color="#c8c8c8" stop-opacity="0"/></radialGradient><circle cx="696" cy="1460" r="54" fill="url(#zg15)"/>
<radialGradient id="zg16" gradientUnits="userSpaceOnUse" cx="473" cy="1525" r="50"><stop offset="0" stop-color="#cbcbcb" stop-opacity="1"/><stop offset="0.64" stop-color="#cbcbcb" stop-opacity="1"/><stop offset="0.66" stop-color="#c8c8c8" stop-opacity="1"/><stop offset="0.75" stop-color="#c2c2c2" stop-opacity="1"/><stop offset="0.79" stop-color="#d6d6d6" stop-opacity="1"/><stop offset="0.85" stop-color="#dedede" stop-opacity="1"/><stop offset="0.91" stop-color="#dadada" stop-opacity="1"/><stop offset="0.96" stop-color="#b9b9b9" stop-opacity="0.75"/><stop offset="1" stop-color="#c8c8c8" stop-opacity="0"/></radialGradient><circle cx="473" cy="1525" r="50" fill="url(#zg16)"/>
<defs><g id="texb"><rect x="445.6" y="1194.4" width="332.2" height="332.6" filter="url(#grain)"/></g><clipPath id="ocb0"><circle cx="550.8" cy="1259.2" r="31.5"/></clipPath><clipPath id="ocb1"><circle cx="728.2" cy="1248.2" r="32"/></clipPath><clipPath id="ocb2"><circle cx="496.2" cy="1351.8" r="32"/></clipPath><clipPath id="ocb3"><circle cx="666" cy="1344.5" r="32"/></clipPath><clipPath id="ocb4"><circle cx="526.7" cy="1460" r="34"/></clipPath><clipPath id="ocb5"><circle cx="696" cy="1460" r="33"/></clipPath></defs>
<circle cx="550.8" cy="1259.2" r="31.5" fill="none" stroke="#f0f0f0" stroke-width="6.5" opacity="0.95"/>
<circle cx="550.8" cy="1259.2" r="31.5" fill="#bababa"/>
<g clip-path="url(#ocb0)"><use href="#texb"/></g>
<circle cx="550.8" cy="1259.2" r="31.5" fill="none" stroke="#2a2a2a" stroke-width="1.1"/>
<circle cx="728.2" cy="1248.2" r="32" fill="none" stroke="#f0f0f0" stroke-width="6.5" opacity="0.95"/>
<circle cx="728.2" cy="1248.2" r="32" fill="#ababab"/>
<g clip-path="url(#ocb1)"><use href="#texb"/></g>
<circle cx="728.2" cy="1248.2" r="32" fill="none" stroke="#2a2a2a" stroke-width="1.1"/>
<circle cx="496.2" cy="1351.8" r="32" fill="none" stroke="#f0f0f0" stroke-width="6.5" opacity="0.95"/>
<circle cx="496.2" cy="1351.8" r="32" fill="#cccccc"/>
<g clip-path="url(#ocb2)"><use href="#texb"/></g>
<circle cx="496.2" cy="1351.8" r="32" fill="none" stroke="#2a2a2a" stroke-width="1.1"/>
<circle cx="666" cy="1344.5" r="32" fill="none" stroke="#f0f0f0" stroke-width="6.5" opacity="0.95"/>
<circle cx="666" cy="1344.5" r="32" fill="#b6b6b6"/>
<g clip-path="url(#ocb3)"><use href="#texb"/></g>
<circle cx="666" cy="1344.5" r="32" fill="none" stroke="#2a2a2a" stroke-width="1.1"/>
<circle cx="526.7" cy="1460" r="34" fill="none" stroke="#f0f0f0" stroke-width="6.5" opacity="0.95"/>
<circle cx="526.7" cy="1460" r="34" fill="#d0d0d0"/>
<g clip-path="url(#ocb4)"><use href="#texb"/></g>
<circle cx="526.7" cy="1460" r="34" fill="none" stroke="#2a2a2a" stroke-width="1.1"/>
<circle cx="696" cy="1460" r="33" fill="none" stroke="#f0f0f0" stroke-width="6.5" opacity="0.95"/>
<circle cx="696" cy="1460" r="33" fill="#d0d0d0"/>
<g clip-path="url(#ocb5)"><use href="#texb"/></g>
<circle cx="696" cy="1460" r="33" fill="none" stroke="#2a2a2a" stroke-width="1.1"/>
<circle cx="747.3" cy="1211.8" r="7" fill="#c2c2c2" stroke="#808080" stroke-width="0.8"/>
<circle cx="720.4" cy="1491" r="7.5" fill="#c8c8c8" stroke="#909090" stroke-width="0.8"/>
<ellipse cx="705" cy="1342" rx="4" ry="8" fill="#f2f2f2" opacity="0.9"/>
<circle cx="509.5" cy="1392" r="3" fill="#f4f4f4" opacity="0.9"/>
<rect x="445.6" y="1194.4" width="332.2" height="332.6" fill="url(#il2)"/>
<rect x="445.6" y="1194.4" width="332.2" height="332.6" fill="url(#il2c)"/>
<rect x="681.1" y="1510.8" width="90" height="3.8" fill="#111"/>
<text x="727.8" y="1521" text-anchor="middle" font-size="5.5" fill="#666">100 μm</text>
</g>
<text x="242.4" y="1175.2" text-anchor="middle" font-size="25">WT</text>
<text x="572.8" y="1175.2" font-size="25"><tspan font-style="italic">Piwil3</tspan><tspan font-size="14" dy="-7.5">-/-</tspan></text>
<path d="M992.3 1210.8V1491.5H1247.1" fill="none" stroke="#111" stroke-width="2"/>
<line x1="988.8" y1="1491.5" x2="992.3" y2="1491.5" stroke="#111" stroke-width="1.6"/>
<text x="970" y="1499.9" text-anchor="end" font-size="25">0</text>
<line x1="988.8" y1="1435.5" x2="992.3" y2="1435.5" stroke="#111" stroke-width="1.6"/>
<text x="970" y="1443.9" text-anchor="end" font-size="25">20</text>
<line x1="988.8" y1="1379.5" x2="992.3" y2="1379.5" stroke="#111" stroke-width="1.6"/>
<text x="970" y="1387.9" text-anchor="end" font-size="25">40</text>
<line x1="988.8" y1="1323.5" x2="992.3" y2="1323.5" stroke="#111" stroke-width="1.6"/>
<text x="970" y="1331.9" text-anchor="end" font-size="25">60</text>
<line x1="988.8" y1="1267.5" x2="992.3" y2="1267.5" stroke="#111" stroke-width="1.6"/>
<text x="970" y="1275.9" text-anchor="end" font-size="25">80</text>
<line x1="988.8" y1="1211.5" x2="992.3" y2="1211.5" stroke="#111" stroke-width="1.6"/>
<text x="970" y="1219.9" text-anchor="end" font-size="25">100</text>
<rect x="1035" y="1445.02" width="49" height="46.48" fill="#8c8c8c"/>
<rect x="1035" y="1397.7" width="49" height="47.32" fill="#aec0da"/>
<rect x="1035" y="1234.18" width="49" height="163.52" fill="#5e7c9d"/>
<rect x="1035" y="1211.5" width="49" height="22.68" fill="#e63a27"/>
<rect x="1160.3" y="1439.42" width="48.3" height="52.08" fill="#8c8c8c"/>
<rect x="1160.3" y="1356.82" width="48.3" height="82.6" fill="#aec0da"/>
<rect x="1160.3" y="1211.5" width="48.3" height="145.32" fill="#5e7c9d"/>
<text x="1059.5" y="1521" text-anchor="middle" font-size="25">WT</text>
<text x="1150.8" y="1521" font-size="25"><tspan font-style="italic">Piwil3</tspan><tspan font-size="14" dy="-7.5">-/-</tspan></text>
<text transform="translate(914.5,1350.6) rotate(-90)" text-anchor="middle" font-size="25">Percentage (%)</text>
<rect x="1279.3" y="1331.6" width="28" height="29" fill="#e63a27"/>
<text x="1321" y="1354.6" font-size="25">Blastomere</text>
<rect x="1279.3" y="1369.4" width="28" height="29" fill="#5e7c9d"/>
<text x="1321" y="1392.4" font-size="25">Pronucleus</text>
<rect x="1279.3" y="1406.8" width="28" height="29" fill="#aec0da"/>
<text x="1321" y="1429.8" font-size="25">PN0</text>
<rect x="1279.3" y="1444.3" width="28" height="29" fill="#8c8c8c"/>
<text x="1321" y="1467.3" font-size="25">Unferlitized egg</text>
<text x="1274" y="1176" font-size="25">Genotype</text>
<text x="1415.8" y="1176" font-size="25">Number</text>
<line x1="1274" y1="1185.3" x2="1520" y2="1185.3" stroke="#221a1a" stroke-width="1.8"/>
<line x1="1397.6" y1="1152.7" x2="1397.6" y2="1250" stroke="#221a1a" stroke-width="1.8"/>
<text x="1381" y="1215.5" text-anchor="end" font-size="25">WT</text>
<text x="1459" y="1215.5" text-anchor="middle" font-size="25">36</text>
<text x="1303.8" y="1247" font-size="25"><tspan font-style="italic">Piwil3</tspan><tspan font-size="14" dy="-7.5">-/-</tspan></text>
<text x="1459" y="1245.5" text-anchor="middle" font-size="25">27</text>
<rect x="1844" y="273" width="2" height="3" fill="#c4c4c4"/>
</svg></body></html>
